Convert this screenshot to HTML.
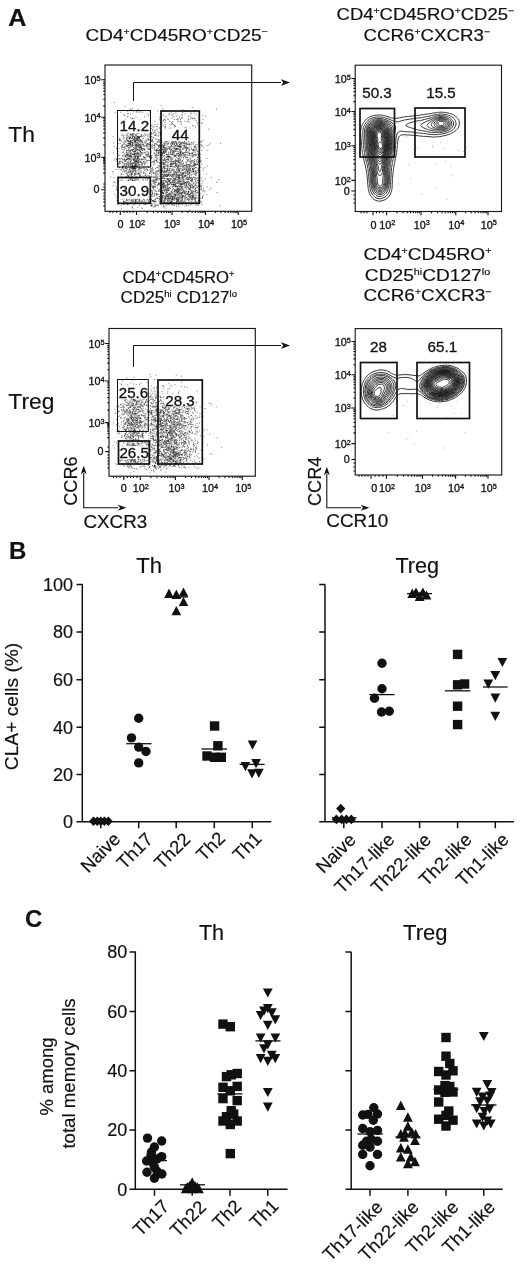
<!DOCTYPE html>
<html lang="en"><head><meta charset="utf-8"><title>Figure</title>
<style>html,body{margin:0;padding:0;background:#fff}svg{display:block}</style></head>
<body>
<svg width="520" height="1265" viewBox="0 0 520 1265" font-family="'Liberation Sans', sans-serif" fill="#111"><style>text{stroke:#111;stroke-width:.18px}.t{stroke-width:.3px}</style>
<rect width="520" height="1265" fill="#fff"/>
<text font-size="24.2" font-weight="bold" transform="translate(8.3 26) scale(1.04 1)">A</text>
<text x="9" y="558.7" font-size="24" font-weight="bold">B</text>
<text x="25" y="927" font-size="24" font-weight="bold">C</text>
<text x="176.7" y="41.4" font-size="16.6" text-anchor="middle" textLength="182.3" lengthAdjust="spacingAndGlyphs"><tspan>CD4</tspan><tspan dy="-6" font-size="9.3">+</tspan><tspan dy="6">CD45RO</tspan><tspan dy="-6" font-size="9.3">+</tspan><tspan dy="6">CD25</tspan><tspan dy="-6" font-size="9.3">−</tspan></text>
<text x="425.3" y="20" font-size="16.4" text-anchor="middle" textLength="177.5" lengthAdjust="spacingAndGlyphs"><tspan>CD4</tspan><tspan dy="-5.9" font-size="9.2">+</tspan><tspan dy="5.9">CD45RO</tspan><tspan dy="-5.9" font-size="9.2">+</tspan><tspan dy="5.9">CD25</tspan><tspan dy="-5.9" font-size="9.2">−</tspan></text>
<text x="426.8" y="41" font-size="16.4" text-anchor="middle" textLength="126.5" lengthAdjust="spacingAndGlyphs"><tspan>CCR6</tspan><tspan dy="-5.9" font-size="9.2">+</tspan><tspan dy="5.9">CXCR3</tspan><tspan dy="-5.9" font-size="9.2">−</tspan></text>
<text x="178.5" y="283" font-size="16.2" text-anchor="middle" textLength="112" lengthAdjust="spacingAndGlyphs"><tspan>CD4</tspan><tspan dy="-5.8" font-size="9.1">+</tspan><tspan dy="5.8">CD45RO</tspan><tspan dy="-5.8" font-size="9.1">+</tspan></text>
<text x="178.8" y="303" font-size="16.2" text-anchor="middle" textLength="116.5" lengthAdjust="spacingAndGlyphs"><tspan>CD25</tspan><tspan dy="-5.8" font-size="9.1">hi</tspan><tspan dy="5.8"> CD127</tspan><tspan dy="-5.8" font-size="9.1">lo</tspan></text>
<text x="427.4" y="260.3" font-size="16.4" text-anchor="middle" textLength="128" lengthAdjust="spacingAndGlyphs"><tspan>CD4</tspan><tspan dy="-5.9" font-size="9.2">+</tspan><tspan dy="5.9">CD45RO</tspan><tspan dy="-5.9" font-size="9.2">+</tspan></text>
<text x="427.5" y="281" font-size="16.4" text-anchor="middle" textLength="125.3" lengthAdjust="spacingAndGlyphs"><tspan>CD25</tspan><tspan dy="-5.9" font-size="9.2">hi</tspan><tspan dy="5.9">CD127</tspan><tspan dy="-5.9" font-size="9.2">lo</tspan></text>
<text x="427.4" y="300.5" font-size="16.4" text-anchor="middle" textLength="128" lengthAdjust="spacingAndGlyphs"><tspan>CCR6</tspan><tspan dy="-5.9" font-size="9.2">+</tspan><tspan dy="5.9">CXCR3</tspan><tspan dy="-5.9" font-size="9.2">−</tspan></text>
<text x="8.3" y="142" font-size="22.8">Th</text>
<text x="8.3" y="409.4" font-size="22.8">Treg</text>
<path transform="scale(0.25)" d="M458 410zm187 12zm-145 5zm269 3zm-248 8zm4-2zm5-3zm23 6zm98-6zm80 6zm135-2zm-374 4zm19 6zm22 0zm12-2zm4-4zm3 6zm9 0zm69-3zm18 1zm3-4zm5 4zm6 1zm10-2zm67-1zm6 2zm12 2zm17-2zm-313 6zm22-2zm30 6zm34-6zm11 0zm11 0zm30-1zm85 3zm11 3zm8-2zm25-4zm3 3zm9 4zm24-3zm14 0zm-282 7zm3 3zm12-6zm11 0zm69 0zm3 5zm54-4zm7 4zm20-5zm3 1zm9 2zm4 2zm16 2zm20-4zm2 2zm34-5zm22 1zm26 5zm-303 6zm4-3zm16 6zm16-3zm35-1zm60 2zm3-3zm3-1zm0-1zm15 5zm5-4zm31 3zm22 3zm1-6zm9 4zm0 2zm25-5zm8-1zm6 6zm56-6zm-321 13zm19-6zm5 7zm4-5zm6 0zm26 5zm76 0zm8-1zm10 0zm3-1zm1 2zm10-3zm4 3zm15-7zm10 6zm8 0zm2-2zm4-1zm9 3zm6-4zm25 3zm1 0zm8-2zm7-1zm2-1zm6-1zm3 2zm31 3zm-325 10zm24-4zm0-1zm5 4zm17-3zm7-2zm10 4zm3-1zm6 0zm44-1zm18 2zm25-5zm8 2zm1 2zm8-2zm17 4zm12 0zm18-1zm6-1zm6 2zm1 1zm17-2zm10 0zm4 0zm27-5zm5 3zm-312 7zm30 5zm3-2zm16-5zm1 5zm35-5zm17 5zm3-4zm18 3zm6-1zm43 0zm3 2zm12-3zm26 1zm2 1zm2 3zm35-3zm32-4zm31 2zm17 3zm5-1zm-315 5zm7 0zm6 4zm9-2zm10 4zm8 0zm3-1zm24 0zm35 0zm10 1zm13-4zm9-1zm25 3zm7-3zm19 0zm7 0zm8 0zm3 5zm2 0zm25-5zm45 4zm21-6zm-301 14zm7 1zm1-1zm14-1zm3 1zm5-6zm9 0zm55 0zm20 0zm7 1zm2 6zm6-6zm8 2zm3-1zm9 4zm9-5zm13 0zm0 3zm0-1zm37 0zm3-2zm39 4zm35-5zm7 4zm-270 9zm16-2zm0 4zm9-4zm1 3zm13-6zm6 6zm5 0zm22-6zm1 2zm11 4zm9-4zm6 4zm16-1zm10-2zm20 2zm3-3zm2-1zm11 6zm3-6zm2 3zm1 1zm4-5zm3 5zm59-5zm1 1zm15-1zm15 3zm59 2zm-339 6zm0-1zm8-2zm6 7zm5-1zm2-1zm1-4zm1 2zm1-2zm11 6zm13-3zm2 3zm2-1zm2-4zm45 2zm6-2zm10 1zm8 1zm1-2zm9-1zm17 4zm11 1zm1-2zm5-1zm6 4zm8-7zm9 5zm24 2zm2-3zm3-4zm81 3zm-309 6zm3 1zm19 3zm1 0zm3 0zm7 2zm0-7zm3 7zm4-6zm4 5zm1 0zm1-2zm2-1zm0 3zm0 1zm7-6zm4 0zm0 3zm3 3zm2-2zm1 0zm4 2zm11-5zm0-1zm7 0zm4 6zm2-7zm5 7zm3-3zm8-1zm0 3zm5-1zm4 1zm1-4zm6 3zm1 1zm4-4zm4-1zm12 0zm4 0zm3 6zm2-5zm0-1zm1 5zm1 1zm15-7zm13 5zm2-4zm4 0zm0-1zm8 2zm13-2zm4 5zm0-4zm7-1zm28 1zm12 3zm6-1zm21-2zm-306 9zm16 5zm1-7zm4 7zm5-2zm7-2zm4 4zm3-1zm1-6zm11 3zm0 2zm0-4zm1 4zm4-3zm0-1zm2-1zm0 1zm1 6zm1-7zm1 7zm4-6zm5 0zm1 5zm3-1zm2-5zm17 5zm1-1zm1 0zm6 1zm7-2zm3 3zm13-3zm4 0zm6-2zm14 5zm1-1zm0-4zm2 3zm4-4zm1 7zm13 0zm0-7zm1 1zm1 0zm9-1zm5 0zm42 0zm8 3zm15-1zm28-2zm14 7zm-311 4zm41-2zm2 5zm12-2zm1 2zm3-2zm3-2zm4 5zm1-1zm1-1zm0 2zm1-4zm6 0zm2 1zm0-4zm1 5zm3-4zm3 3zm0 2zm1-3zm0 1zm3 3zm2-7zm2 2zm0 4zm4-3zm1 0zm0 3zm1-5zm1 2zm2 4zm0-4zm0 3zm1 1zm0-3zm1 1zm1-3zm1 3zm0 1zm3-5zm0 3zm3-2zm1 2zm4-2zm7 1zm14-3zm3 0zm5 5zm3-4zm5 0zm1 2zm6 1zm0 3zm21-7zm10 0zm11 5zm5-3zm1 2zm12 2zm26-3zm17 0zm8 3zm8-1zm0-2zm1 0zm7 3zm0-2zm17-4zm6 6zm4 1zm16 0zm8-1zm-314 3zm2 2zm2 3zm13-2zm5-4zm7 4zm1-2zm1 3zm5-1zm4-2zm1 0zm1-2zm0 1zm0 2zm7-1zm1 0zm3-2zm2 2zm1 5zm2-1zm2-6zm1 6zm1-3zm1 0zm1-2zm2 4zm4-3zm0 1zm1-1zm1 4zm0-3zm1-1zm2 3zm1-1zm2 3zm1-5zm2-2zm1 5zm3 1zm11-4zm15 2zm4 1zm1-4zm2 4zm7-5zm3 0zm3 5zm1 1zm10-5zm4 4zm4 0zm7 1zm21 0zm3-3zm21 1zm9 0zm10-2zm19 4zm1-1zm2 2zm7-5zm6 3zm0-5zm2 5zm22 0zm5 0zm4 0zm1-5zm22 0zm-313 8zm2 2zm1-1zm4 1zm2 4zm12-2zm5-2zm4-2zm4 3zm0 1zm1-2zm3 2zm2 0zm0 3zm1-6zm0 5zm5 0zm0-5zm1 6zm1-4zm0 2zm4-1zm1-1zm2-3zm1 2zm7 3zm0-4zm1 1zm0 2zm1 0zm0 2zm1 0zm0-1zm2-3zm0 2zm1-2zm1-2zm1 1zm2 0zm3 1zm1-1zm0 5zm5-1zm0-1zm1-1zm2 0zm1-1zm1-1zm2 5zm1-5zm2 5zm0 1zm3-7zm8 4zm4 0zm3-1zm1-1zm9-2zm1 0zm6 2zm3 4zm1-4zm2-1zm0 4zm7 1zm14 1zm2-3zm4-4zm2 7zm2-6zm1 0zm3 6zm3-7zm2 4zm6-3zm1 1zm3 4zm2-4zm4 5zm1 0zm0-1zm1 1zm2-7zm2 4zm1 2zm12-3zm3 0zm0 4zm1-6zm2 6zm4-2zm5-4zm1 5zm0 1zm1-5zm1 4zm1-3zm1 1zm1 3zm2-4zm8 1zm3 1zm7-1zm7-2zm6 5zm1-1zm9-5zm6 6zm1-3zm1 3zm8-5zm4 1zm11 4zm10-7zm14 6zm4 0zm5-5zm-356 10zm17 3zm8-1zm14-4zm1 6zm4-5zm1-2zm5 0zm6 7zm0-1zm1 1zm1-7zm0 7zm1 0zm3-2zm1 1zm1 1zm0-6zm0 2zm1 3zm1-1zm0-5zm3 3zm1-3zm2 2zm1 1zm1 0zm0 4zm3-3zm3-4zm2 0zm3 0zm0 2zm2 2zm2 0zm2-1zm2-1zm2-2zm1 5zm3 0zm6-4zm3 3zm5-2zm1-1zm10 2zm0 1zm4-4zm1 5zm6 1zm1 1zm4-6zm4 2zm10-3zm9 6zm4-1zm6-5zm4 0zm6 2zm3 1zm3 4zm7-5zm7 3zm1 0zm1-3zm7 5zm4-1zm1 0zm0 1zm4-6zm5 6zm3-7zm2 5zm1 1zm1 1zm0-4zm2 2zm1-5zm0 2zm3 1zm1-3zm0 7zm1-1zm4-6zm3 4zm1 3zm0-5zm1 5zm2 0zm4-4zm2 1zm4-3zm2 2zm2 1zm1 1zm1-2zm2 2zm1 1zm1-6zm3 4zm0-2zm2 0zm2 3zm2 1zm1-3zm3-3zm1 6zm5-3zm0 2zm1 0zm10 2zm7-3zm2-3zm5 3zm2-1zm20 0zm2 4zm8-6zm37 6zm41-1zm-394 6zm2 1zm0 1zm5-6zm1 3zm6 1zm3-1zm3 2zm1 2zm3-2zm0 2zm0-1zm3 1zm1-1zm3-2zm1-3zm0 2zm2-1zm2 3zm0 2zm2-2zm2-5zm1 2zm1 3zm2 1zm0-6zm4 7zm1-7zm2 2zm2-1zm1 4zm3-1zm1-1zm0 2zm1 2zm0-6zm1 3zm2 1zm1-5zm1 7zm1-6zm1-1zm0 5zm2 0zm2-3zm1 1zm1 3zm1-1zm0-4zm3 0zm4 3zm1-3zm1 0zm3-1zm1 2zm1 4zm5-1zm5-1zm1 3zm1-3zm1 0zm4-2zm0-1zm3 3zm2-3zm0-1zm1 4zm8 3zm3-6zm0 4zm6 1zm2-1zm1-2zm0 3zm6-5zm0-1zm4 4zm3 2zm0-5zm3 5zm4-1zm1 1zm1 1zm0-4zm1 0zm2 4zm6-6zm1 3zm3 2zm2-6zm2 4zm0 3zm1-2zm1 0zm1-5zm4 4zm7-2zm13 1zm2 3zm1-2zm4-2zm6 0zm0 4zm1-5zm3 6zm2 0zm1-1zm3-4zm1-1zm1 5zm6 1zm3-5zm1-1zm2 4zm1-1zm4-4zm1 4zm5 2zm4-6zm0 6zm2-2zm2 3zm4-6zm4 1zm1-1zm4 2zm1-2zm4 2zm2-3zm1 3zm6-2zm8 0zm5 5zm4-3zm5-1zm7 5zm2-1zm2-5zm4 2zm3 3zm21 1zm7-3zm-378 6zm12 3zm16-4zm3 4zm1-2zm3 4zm4-3zm0 2zm3 1zm0-4zm5 0zm2-2zm4 1zm3 4zm4-1zm3-3zm3 3zm5-3zm1-2zm5 6zm7-5zm0-1zm2 7zm0-6zm2 6zm0-4zm1 1zm2 1zm3-3zm2-1zm1 6zm1-6zm2 3zm1 1zm1 1zm1 0zm1-6zm1 4zm0-4zm0 3zm1 4zm1-6zm1 6zm1-2zm2-4zm7 2zm4-2zm6-1zm3 3zm1 0zm7 0zm4-2zm7 4zm2-1zm8 2zm3-3zm14 1zm1-1zm3 2zm1-4zm2 4zm1-3zm3-2zm3 3zm0 2zm3-5zm2 3zm1 0zm0 2zm0 2zm3-4zm1 3zm5 1zm0-1zm6-5zm4 6zm2-5zm2 3zm5-1zm1-2zm2-2zm0 5zm3-3zm7 2zm1-1zm3 1zm5-4zm7 2zm1 0zm1-2zm0 3zm3-1zm1-2zm0 4zm1-3zm1-1zm1 4zm2-3zm0 3zm2 0zm0 1zm1-2zm8 3zm3-6zm0 7zm3-6zm0 3zm1 1zm0 2zm3-1zm2-5zm1 0zm1 5zm2 1zm8-4zm8 1zm11 1zm2-3zm1 5zm2-5zm2 0zm2 4zm8-4zm4 0zm3 2zm7-4zm6 4zm-346 6zm9 0zm10-2zm5 6zm7 0zm6-4zm10 3zm1-4zm4-1zm8 6zm2 1zm3-2zm1 1zm1 0zm2-6zm2 1zm1 2zm2-2zm2 6zm1-5zm1 5zm2-4zm3 2zm0 1zm1 0zm1 0zm4-1zm2-5zm3 5zm3-1zm0 3zm1-6zm0 5zm2-3zm1-1zm1 2zm2 0zm1-2zm3 1zm1 3zm2 0zm1-2zm1 3zm11-6zm0 2zm4 1zm1 1zm1-2zm0 3zm4-6zm7 1zm8 3zm3-4zm7 7zm2-2zm0-4zm6 2zm4 4zm1 0zm4-1zm0-4zm4 2zm4-3zm0 4zm0 2zm4-2zm2-4zm2 5zm0 1zm2-2zm1-1zm1 1zm2-3zm3 1zm0 4zm2-2zm2-4zm5 3zm1-4zm1 1zm0 5zm0-1zm4 2zm2-2zm2 0zm3-4zm6 2zm1-3zm0 2zm5 2zm0-3zm2 2zm0 3zm0-1zm3-2zm0-1zm0 3zm0-4zm1 6zm0-4zm1-2zm1 4zm3-1zm2-1zm2 3zm3-6zm1 3zm0 3zm9-2zm1-1zm3 3zm6-4zm4 2zm2 3zm1-2zm1-3zm2 0zm0-2zm3 0zm3 6zm1-2zm8-1zm1 1zm3 2zm4-1zm1 1zm3-1zm5-4zm3 6zm1-4zm-314 11zm22-1zm12-3zm0 3zm1-2zm1-1zm4-1zm3 1zm2 3zm3-5zm0 5zm1-5zm0 2zm0 4zm4-4zm5-1zm0 4zm1-3zm4 5zm0-7zm1 7zm2 0zm0-1zm3 0zm0 1zm0-5zm1 4zm1-6zm1 1zm2 2zm4 1zm6-2zm0 1zm1-3zm4 6zm1-1zm1 0zm4-4zm3 1zm7 0zm10 5zm2 0zm8-7zm6 2zm16-2zm1 1zm4 0zm1-1zm0 7zm1-5zm1 2zm4-2zm1 0zm1 0zm2 3zm2-4zm0 3zm3-2zm3 2zm5 1zm5-4zm1 2zm0 2zm1 1zm2 1zm2 0zm0-6zm2 1zm2 2zm2 2zm1-3zm16 0zm2 3zm2-6zm3 4zm3-2zm2 3zm2 2zm0-1zm0-6zm3 2zm2 1zm1 2zm3-1zm4 2zm3 0zm6-2zm2 0zm2-4zm1 5zm2-1zm17 1zm1-3zm3-1zm6 4zm6-3zm12 0zm4 0zm1 0zm0 1zm1 2zm5-4zm3 4zm6 0zm2-1zm4-3zm11 1zm24-1zm-377 11zm34-1zm6-2zm12 2zm1-1zm3 5zm2-6zm4 4zm0-2zm5 2zm1 2zm0-4zm4 1zm2 3zm8 0zm1-7zm2 4zm2 3zm2-1zm2-2zm2 0zm2 2zm2-4zm1 1zm1 4zm1-1zm3 1zm2-7zm3 1zm3 2zm0 1zm2-1zm4 4zm1-5zm7 1zm1-2zm1 4zm12-2zm2 0zm8 4zm3-7zm10 6zm2-2zm7 1zm3-4zm5 4zm1-1zm1-2zm0 5zm1-5zm0-1zm5 6zm0-1zm2-3zm2-2zm3 2zm1 2zm0-1zm3 2zm1-4zm0 2zm0 1zm1-3zm1-2zm2 6zm2-5zm0 4zm3-5zm2 0zm0 1zm10 0zm2 4zm6-3zm0-1zm2-1zm5 7zm1-4zm1-3zm1 3zm1-3zm3 4zm1 0zm11 2zm0 1zm1-1zm5 0zm2-4zm3 3zm2-2zm1-1zm0-1zm0 6zm1-7zm0 4zm1-4zm4 6zm1-5zm1 4zm2 1zm2 0zm1-4zm1 2zm3-1zm2-1zm4-1zm2-1zm1 2zm4 2zm4-4zm0 4zm2 2zm1 0zm4-1zm4 0zm1 2zm1-1zm1 0zm1-4zm5 1zm7 1zm9 0zm7 3zm-325 1zm2 7zm3-2zm11 2zm6-6zm4-1zm1 6zm2-1zm4-4zm0 1zm1 0zm0 5zm0-1zm2-2zm2-3zm1 1zm0 4zm4 0zm2-6zm3 5zm0-1zm0 3zm5 0zm1-4zm3-3zm0 2zm2 0zm1-2zm3 2zm1 1zm0-3zm1 0zm1 0zm3 6zm2 0zm2-6zm1 1zm1 0zm3 4zm2-4zm2 0zm2 4zm3 1zm2-5zm0 4zm1-5zm5 0zm14 4zm2 1zm1-1zm2-3zm1 2zm3-3zm0 2zm4-1zm1 6zm9 0zm2-1zm12-6zm2 7zm1-1zm2-1zm1-3zm3 3zm3-1zm1 2zm4-2zm5 3zm1-5zm3 0zm0 4zm3-1zm1-3zm1 5zm6-2zm2 0zm7-4zm0 3zm2-2zm1 0zm4-2zm1 4zm2 0zm5-4zm1 2zm1-1zm4 1zm1-1zm0 1zm3 2zm2-4zm2 1zm1 4zm3 1zm1 1zm1-1zm2 0zm1 0zm1-4zm6 4zm0-6zm4 4zm1 3zm1-6zm1 1zm3-2zm1 7zm2 0zm0-4zm1-1zm2 3zm6-4zm0 4zm3 0zm4-3zm0 5zm1-4zm2-1zm6 3zm2-1zm5 0zm1 1zm2-2zm4 4zm5-3zm3 1zm2-1zm1 0zm3 3zm1-5zm4-1zm1 3zm1 1zm3 2zm1-5zm6 1zm1 1zm3-4zm0 6zm4-3zm-312 5zm5 0zm5 1zm1 2zm3-1zm1 3zm5-2zm5-3zm1 2zm1-1zm1-1zm3 0zm2 3zm1 2zm0-2zm1-2zm1 1zm2 2zm7-1zm0-3zm4 0zm0 4zm1-4zm1 6zm0-1zm0-2zm1 0zm3-1zm3-2zm2 1zm0 2zm0 3zm1 1zm1-4zm1-1zm0 3zm2 1zm0-5zm6-1zm0 2zm13 0zm1 3zm2-1zm0 2zm4 0zm3 1zm6-5zm1-2zm1 0zm3 2zm3 0zm0 1zm0 1zm1 3zm5 0zm1-2zm1-1zm2 3zm12-2zm0-5zm5 6zm3-3zm12 0zm9 3zm5-4zm6 2zm6 1zm1 1zm1-4zm1-1zm2 2zm0-3zm0 2zm3 1zm1 0zm0 1zm1 0zm0-3zm1 3zm2-2zm1 2zm1 1zm3 0zm1 1zm10-3zm4 0zm2-2zm2 0zm1-1zm3 6zm7-6zm1 3zm1-3zm4 1zm2 1zm4 5zm2-7zm5 4zm1 2zm4-5zm2-1zm4 6zm3-3zm1 3zm1-1zm19-2zm2 1zm5-3zm15 5zm2-1zm1-5zm9 7zm-341 4zm5 2zm1 2zm8-4zm2-1zm3 5zm1-6zm5 0zm5 4zm0 1zm5-5zm1 4zm1 0zm6 2zm2 0zm0-1zm1-2zm1 3zm1-1zm1-4zm1 1zm1-2zm2 3zm1-4zm2 2zm0-2zm1 3zm1-1zm1 4zm1-1zm3-5zm1 6zm4-6zm3 5zm0-3zm2 5zm1 0zm1-2zm1-4zm0 6zm2-5zm1 2zm3-2zm2 1zm0 4zm3-5zm0 5zm2-4zm1 2zm3-4zm0 1zm2 3zm2 1zm3-2zm6 2zm0-5zm1 6zm3-1zm1-1zm4-1zm1-4zm3 5zm2-1zm21-2zm2 0zm2 1zm12 4zm9-1zm1-3zm0-2zm7-1zm3 6zm7-3zm2-2zm3 5zm6-1zm0 2zm2-4zm0 2zm1-1zm6 2zm4-2zm1 1zm1 0zm1 2zm0-2zm1 0zm7-3zm1 5zm4-1zm1-4zm4-1zm0 6zm11-2zm9-4zm1 3zm1-2zm2 5zm3-7zm0 4zm4 0zm0 3zm12-3zm8-4zm4 4zm6 2zm4-2zm3-4zm3 7zm1-6zm14 6zm2 0zm10-1zm3-6zm7 4zm29-2zm-371 6zm7 5zm14 1zm3-1zm4 1zm4-2zm8-4zm0 5zm3-2zm1 3zm1-3zm2-3zm3 7zm7-7zm6 1zm2 4zm0 2zm0-1zm1 1zm3-4zm10-1zm1-2zm0 5zm1 1zm1-5zm3 0zm0 4zm1 0zm2-2zm0 2zm0 2zm1-4zm0 3zm2-2zm2 3zm1-6zm2 3zm1-3zm2 1zm1 5zm3-1zm2 1zm1 0zm2-7zm9 6zm1-1zm5 0zm7-4zm1 0zm0 2zm7-1zm3 0zm5 2zm1-4zm11 6zm1-3zm1 3zm6-4zm2 0zm2 2zm0-1zm9 1zm7-3zm6 3zm4 0zm1-2zm4-1zm2 2zm1 1zm2 0zm4 2zm1 1zm0-7zm7 2zm2 4zm4-1zm5-2zm2 3zm3 0zm2-1zm2-1zm2 3zm3-3zm1 0zm2 0zm1-4zm0 2zm0 3zm4 0zm0 1zm1-5zm0 4zm4-3zm1 2zm1 0zm2-1zm6-2zm2 6zm3-2zm2-1zm0-1zm15 4zm4-3zm2-1zm2-3zm2 4zm5 2zm1-1zm3-1zm3-1zm2-1zm6 0zm3 4zm1 1zm8-6zm0 4zm6-1zm1 3zm7-6zm2 6zm2-6zm-333 9zm3 3zm3-2zm1-3zm3 4zm9-2zm1 2zm1 1zm6 1zm5 0zm5-4zm2 5zm2-6zm2 5zm0-6zm2 7zm3-5zm4 4zm0 1zm1-1zm4-3zm1 3zm2 1zm1-5zm2 5zm1-6zm0 3zm0 3zm4-5zm0 3zm2 0zm0 2zm1-3zm3 0zm1 3zm1-7zm3 4zm0-3zm2 0zm0 2zm1-3zm1 4zm8-2zm3 0zm0 2zm3 1zm2-1zm3 0zm5-3zm1 6zm1-3zm3 1zm5-4zm13 6zm3-5zm3-1zm2-1zm4 4zm4-3zm10-1zm1 1zm10 3zm0-2zm2 2zm3-3zm1 1zm6 2zm0-2zm3 3zm1 0zm1-3zm4 2zm1 1zm0-4zm7 1zm6 1zm9 4zm1-7zm1 2zm0 5zm2-2zm3 2zm2 0zm1-4zm2 2zm1 0zm0 2zm4-2zm1-4zm0 3zm1 0zm2 1zm0 2zm9-6zm1 0zm2-1zm0 3zm0 2zm2-3zm2-2zm3 6zm0-4zm6 5zm4-2zm1-1zm10-2zm17 0zm2 5zm3-6zm3-1zm3 0zm2 4zm2-3zm3 5zm1 1zm7-6zm5 0zm6 6zm4-7zm-328 12zm0-4zm5 0zm18 3zm0 2zm2-1zm5 1zm2-1zm1-4zm4 3zm2 0zm1 2zm1-1zm6-1zm1-2zm2 2zm4 2zm0-1zm1-3zm1 6zm7 0zm2-1zm1 1zm0-3zm1 1zm2 1zm0-3zm1-1zm1 3zm1 0zm5-5zm2 1zm3 3zm2-2zm2 4zm0-5zm8 2zm1-1zm0 3zm9-4zm25 3zm2-3zm11 2zm4-3zm15 7zm5-7zm1 6zm4-1zm3-5zm3 0zm2 1zm1-1zm1 1zm2 3zm0-3zm3 1zm5 1zm4-3zm2 5zm2 0zm8-3zm1-2zm0 7zm1-6zm1 1zm2 2zm4-3zm2 1zm10 2zm0 3zm1-1zm1-4zm0 3zm1-5zm2 6zm1-2zm1-4zm5 7zm1-1zm1 1zm1-4zm3-2zm2 6zm3-6zm3 4zm1-4zm2 6zm2-3zm5 2zm1 0zm2-1zm1-1zm4-4zm1 0zm1 3zm1 4zm1-6zm4 1zm1 3zm1-2zm3-1zm0 2zm5 2zm0-6zm6 5zm4 1zm2-4zm1-1zm0 1zm1 4zm2-5zm1 5zm0-6zm2 1zm2 0zm1 2zm3-3zm1 2zm1-2zm16 1zm-331 13zm2 0zm12-1zm1-5zm0 6zm1-4zm0 2zm2-3zm9 6zm0-6zm2 0zm3 6zm7-3zm1-4zm5 5zm1-4zm1-1zm1 2zm0 1zm1 3zm2-3zm1 0zm2 3zm0 1zm0-7zm0 1zm1-1zm0 2zm3 1zm0 3zm1 1zm1-6zm1 1zm0 1zm1 3zm1-4zm1-1zm0 2zm1 4zm0-5zm3 1zm0-2zm2 2zm4-3zm1 1zm0 3zm2-4zm4 4zm1 3zm2 0zm8-3zm6 3zm2-5zm1-1zm2 4zm8-2zm4 0zm3 2zm1 0zm4 0zm6-4zm5 5zm18 0zm1-1zm3 0zm5-5zm3 0zm0 5zm6 1zm1-4zm1 2zm4 3zm2-4zm1-2zm0 4zm1-2zm2 0zm1 3zm0-6zm5 0zm2 0zm4 1zm0 2zm3 2zm4-3zm5-2zm0 2zm1 1zm2-3zm1 1zm3 0zm3 3zm3-2zm2-1zm3 5zm0-2zm6-3zm2 2zm2 1zm0-3zm1 6zm1-1zm1-2zm2-4zm2 5zm5-2zm5-1zm4 2zm0 3zm1-6zm2 0zm2 6zm1-5zm3 5zm5-6zm1-1zm1 7zm0-5zm2 4zm3-4zm4 4zm2-3zm1-3zm1 1zm2 0zm5 2zm1 1zm1-2zm7-2zm0 4zm1-3zm5 5zm4 0zm17-1zm18 2zm8-7zm-365 14zm11-2zm9 2zm3-5zm4 2zm2 4zm3-4zm6-2zm1 0zm2 2zm2-1zm2 2zm8-1zm1 3zm3-2zm4 0zm0-2zm4-1zm2-1zm0 5zm1-5zm1 1zm0 1zm0 2zm1-1zm1 0zm2-1zm2 3zm0-4zm0 1zm1 1zm1-2zm0 6zm1-5zm3 0zm8-2zm1 0zm1 5zm3-1zm2-2zm1 2zm6-1zm1-2zm5-1zm6 2zm1 5zm6-4zm1 2zm3 2zm9 0zm5-4zm0 2zm4-3zm1 2zm4 1zm9-3zm13-1zm4 4zm4 2zm5-4zm0 2zm1-2zm8-1zm1 3zm0-4zm4 1zm3-1zm4 6zm1-2zm1-3zm0 1zm0 3zm7-4zm5 0zm7 3zm1 0zm5-1zm9 1zm2 0zm2-2zm4-1zm2 2zm0 2zm1-2zm1 3zm3-5zm4 1zm1 1zm6 2zm1-2zm4 2zm2-2zm2 3zm1-3zm4-3zm2 5zm0-2zm5-1zm1-2zm2 4zm1-1zm0 2zm3-6zm1 7zm0-5zm2 5zm1-5zm7 3zm1-3zm0 3zm0-1zm1-2zm1 2zm0 3zm5-5zm1-2zm13 2zm5 1zm1-1zm14-1zm-361 13zm32-6zm6 7zm4-4zm5-2zm0 6zm5-5zm1 2zm2 1zm1-3zm8-1zm5 6zm0-6zm1 5zm1 0zm2-5zm2 4zm4 2zm1-6zm2 6zm2-7zm1 4zm3-3zm1 4zm0-3zm3 5zm1-4zm7 0zm2-3zm6 6zm4-4zm2 2zm14-3zm6 3zm5-4zm12 6zm1-2zm0-1zm4 4zm2-4zm3-3zm12 4zm3-1zm0 4zm3-3zm4 0zm2-4zm0 4zm1 0zm6-2zm1 5zm0-4zm2-1zm0 4zm2-2zm0 1zm1-4zm0 3zm3-1zm3 1zm2 3zm1-1zm1-4zm1 3zm0 2zm5-2zm1-3zm0 5zm1 0zm1-5zm3 2zm2-1zm3-1zm2-1zm1-1zm1 0zm0 7zm6-7zm1 3zm4-3zm2 1zm3 1zm0 3zm5 1zm3-2zm4-4zm2 5zm3-2zm2 0zm1-1zm0 5zm1-5zm1 4zm1-3zm8-1zm4 0zm3-2zm8 4zm5-3zm1 2zm0 2zm1-3zm0 4zm1-1zm2 0zm2-1zm2-1zm2 0zm4-1zm1 0zm2 3zm5-2zm2 4zm1-1zm1 1zm1-1zm0-4zm5-2zm1 1zm1 5zm1 1zm6-6zm4 0zm1 1zm1 1zm5 2zm13-4zm-361 11zm48-1zm6 3zm3-3zm2 0zm3-3zm1 0zm3 4zm2-2zm4-1zm1 4zm2 1zm2-6zm1 7zm1-7zm7 6zm2 0zm3-3zm2-3zm5 7zm4-2zm0 2zm0-1zm1-3zm8 1zm1-1zm9-2zm2 2zm0 1zm1-1zm6 3zm16-1zm1 0zm4 0zm1-2zm7 1zm3-4zm1 7zm1-3zm0 2zm4-5zm2 4zm4-2zm4 1zm8-1zm6-3zm0 1zm2 1zm1-2zm1 4zm6-2zm3-2zm3 1zm3 2zm5-3zm6 3zm0 4zm5-4zm1 0zm0-3zm5 0zm10 1zm1 6zm1-3zm0-4zm6 7zm0-6zm1 1zm2 5zm1-2zm0-4zm1-1zm6 3zm2 0zm6-3zm1 6zm1-4zm4 2zm3 1zm0-4zm0 2zm3 3zm0-3zm2 2zm3-5zm0 1zm4 2zm1 0zm1 3zm6-4zm1 5zm0-7zm4 2zm2 1zm1 4zm0-6zm0 1zm1 4zm7-5zm1-1zm7 7zm1-7zm4 6zm2-2zm2 3zm2-2zm0-5zm5 2zm-307 7zm2-1zm0 3zm7-2zm16 5zm1-3zm2 0zm2 4zm4-3zm5-2zm2 5zm1-6zm0 3zm1-1zm1-2zm8 6zm3-7zm0 4zm2-3zm0 2zm3-2zm5-1zm8 6zm1-6zm2 1zm0 3zm17 3zm5-1zm2-4zm7 3zm15-2zm15 3zm1-5zm4 4zm5-4zm1 2zm5 1zm5-1zm1-1zm1 0zm4 0zm2-1zm3-1zm3 3zm0 3zm2-6zm1 2zm1 4zm3-3zm0 1zm1 0zm0-1zm4-2zm1 5zm0-5zm2 1zm0 3zm1 0zm1 1zm1 0zm1-4zm2 2zm2-2zm2-2zm1 6zm1-1zm4-3zm1 5zm1-3zm2-2zm1-2zm1 3zm0 3zm4-6zm1 2zm4 1zm4 0zm1 0zm1 1zm3 2zm1 1zm0-6zm3 4zm1-1zm0 2zm2-4zm1 5zm2-3zm2 2zm2-4zm1 0zm1 5zm2-6zm1 6zm0-4zm2-3zm1 7zm1-7zm5 6zm2-6zm0 5zm1 1zm2 0zm4 1zm2-6zm2-1zm2 2zm4 5zm2-4zm5 2zm3-3zm12 0zm2 3zm3 2zm16-6zm24-1zm-382 12zm13 3zm18-6zm11 3zm1 1zm16-2zm0 4zm3-3zm5 3zm1-4zm2-1zm1-1zm6 4zm2 2zm1-6zm2 6zm4-5zm12 5zm3-2zm1 0zm0-1zm12 3zm1-4zm1-3zm0 4zm3 1zm0-5zm5 4zm5-1zm13-1zm4 4zm6-6zm3 0zm0 3zm7-2zm2 1zm1 4zm5-3zm2 2zm1 1zm2-1zm3-3zm2 2zm2 2zm1-1zm4-1zm2-1zm7 0zm5 2zm1-1zm4 0zm2-2zm1-2zm1 0zm1 0zm2 0zm3 2zm1 2zm4-2zm1 0zm2-1zm0-1zm2 2zm2 0zm8 0zm7 0zm3 0zm0 5zm0-7zm5 1zm1 6zm3-7zm3 7zm0-7zm4 6zm0-5zm0 2zm2 3zm3-2zm2-4zm1 5zm1-5zm0 4zm1 1zm1-3zm1 3zm1 2zm1 0zm2 0zm7 0zm0-7zm1 7zm1-5zm0 3zm2 0zm3-1zm2-2zm1-1zm2-1zm3 2zm2 5zm5-3zm0 2zm6-2zm2 2zm0-5zm3 6zm2 0zm4-2zm0 2zm5-1zm3-3zm4 4zm1-1zm9 1zm9 0zm2-3zm45 2zm-373 4zm15 5zm31-6zm2 2zm2 3zm4-5zm2 2zm1 4zm3-6zm2-1zm4 1zm5 4zm1-5zm3 7zm1-6zm2 1zm3 4zm19 0zm11-5zm5 5zm2-3zm6-2zm16 6zm6 0zm4-3zm2 2zm0-5zm1 3zm2 1zm0-1zm3-1zm5-1zm1 2zm2-2zm4-1zm3 1zm0 1zm5-3zm1 1zm1-1zm4 2zm1-2zm0 2zm0-1zm7 1zm4 2zm2-1zm0 2zm0-3zm2 3zm1 2zm1-3zm2 1zm1-3zm4 3zm1-3zm2 4zm2-3zm5 4zm3-5zm2 0zm1 4zm2 0zm1-3zm0 2zm2 0zm0-3zm4 3zm3 0zm3 2zm1-5zm1 0zm3-1zm1 2zm2-3zm1 4zm3 3zm3-3zm3 0zm1-4zm3 5zm1-1zm0-4zm5 6zm4-6zm1 4zm1 1zm3-5zm0 5zm3 1zm1-5zm1 6zm1-7zm1 5zm1 2zm0-4zm5-2zm2 0zm4 5zm1-1zm0-2zm2 1zm8 1zm4-4zm1 2zm4-1zm8 1zm10-3zm14 4zm55 2zm-418 9zm16-3zm0 3zm5-2zm5-2zm3 3zm5-4zm7 5zm1 0zm8-4zm6-1zm1 0zm1-2zm1 0zm7 0zm1 7zm1-2zm4-3zm0-1zm1 4zm0 2zm1-2zm1-5zm1 5zm0-1zm0 3zm2-1zm0 1zm2-6zm0 3zm3-3zm1 5zm0-6zm1 6zm5-2zm6 3zm2-4zm3 4zm15-6zm10 0zm7 2zm8 4zm5-2zm1-2zm7 1zm1-1zm1 0zm2 0zm2 3zm2-2zm2-1zm5-2zm3-1zm7 0zm6 0zm2 5zm1-3zm0 3zm0 2zm1 0zm1-4zm3 0zm1 2zm2-2zm2-1zm3-1zm2 1zm2 2zm1 3zm3-6zm5 4zm1-1zm3 2zm0-1zm1-4zm0 2zm1-1zm2 2zm0 2zm1-4zm11 1zm3 2zm2-3zm0 1zm2-3zm1 4zm2 3zm3-5zm7 3zm1 0zm0-5zm3 7zm1-1zm0-6zm2 3zm2 0zm2 1zm1 2zm2-2zm3 3zm3-4zm3 3zm0-3zm4 2zm9 2zm5-3zm0 3zm10-5zm3 3zm0-1zm1-4zm1 2zm1 2zm0-1zm2-3zm11 7zm1-3zm0-4zm9 2zm1 0zm3-1zm7 0zm8 3zm-355 5zm8 2zm10 1zm5-4zm10 2zm18 2zm3 1zm1-2zm1-2zm1 4zm6 2zm5-5zm0-1zm1-1zm2 2zm0-2zm1 4zm2-1zm1 2zm1 0zm1 2zm0-7zm4 1zm2 4zm1-2zm1 1zm0 2zm2-2zm0 3zm4-2zm0-5zm2 1zm2 6zm0-3zm1-2zm2 5zm2-7zm0 2zm2-1zm0 3zm1 2zm1 0zm1-6zm7 5zm2 0zm3-4zm7 3zm20 3zm3 0zm11-7zm0 4zm3 2zm1-3zm4-2zm1 2zm2-1zm2-2zm8 4zm1 3zm0-3zm0 2zm3-1zm3 2zm1-2zm1-2zm2 4zm2-5zm1 0zm1 5zm3-7zm0 6zm3-3zm0 1zm0 3zm0-1zm2-3zm0 3zm6-6zm1 1zm3 0zm0 1zm3-1zm1 3zm0 3zm6-3zm2-4zm3 2zm0 3zm1-3zm1 5zm1-6zm0 6zm4-5zm2-2zm0 1zm1-1zm0 2zm4 5zm2-5zm2-2zm2 6zm3 0zm3-1zm0 1zm0-4zm1-2zm4 6zm1-6zm1 6zm2-5zm0 2zm1-3zm2 7zm1-4zm2 4zm2-1zm3-2zm2 3zm1-7zm1 3zm3 3zm1-2zm0 3zm2-1zm0-6zm2 2zm1 0zm1-1zm2 4zm1 1zm1-6zm2 5zm1-3zm1-1zm3-1zm1 7zm3-4zm0 3zm2-3zm13-3zm3 3zm0 3zm10 1zm1-6zm5 1zm4 3zm2 0zm0-4zm1 1zm10 3zm59-3zm-414 13zm36 0zm0-6zm1 0zm2-1zm6 1zm5 3zm2 0zm4 2zm2-1zm2-5zm0 5zm1-3zm2 5zm3-7zm3 0zm0 6zm1-4zm0 1zm1 0zm0 1zm2-3zm0-1zm1 3zm0-2zm4 4zm3-4zm1 3zm1-4zm0 3zm1-2zm1-1zm0 1zm1 3zm3-2zm1 5zm1-5zm1 0zm1 3zm3-5zm0 2zm1-2zm0 7zm1 0zm0-6zm5 2zm4-3zm0 1zm2 0zm5 2zm0 4zm4-3zm10 0zm1-4zm4 6zm12-5zm7 4zm2-5zm13 1zm1 4zm8-2zm1 2zm3 0zm2-3zm4 0zm2 4zm3-2zm4-4zm0 6zm1-4zm0 1zm3 1zm0-1zm1 4zm1-6zm4 4zm0-1zm1 0zm3 2zm0-1zm6-4zm1 3zm1-3zm0 5zm2-5zm1 2zm2 0zm1-2zm2 0zm8 1zm2 1zm3-2zm1 2zm0-1zm1-2zm0 7zm1-4zm1-1zm1-1zm0 2zm1 4zm1-4zm2 1zm0-1zm1-3zm1 4zm1-1zm11 3zm3-4zm6 3zm1 2zm0-6zm0 1zm0 2zm0-1zm2-3zm0 3zm1-3zm4 2zm1-2zm3 3zm3-2zm1 5zm5-4zm1 4zm2-4zm0 3zm1 2zm5-5zm4 4zm0-1zm2-5zm2 6zm2-5zm1 0zm3 5zm1-5zm2 4zm3-5zm7 5zm0-1zm0 2zm2-6zm5 6zm5 1zm2 0zm5-7zm8 4zm-342 5zm8 5zm14 1zm2-1zm3-4zm2-1zm2 1zm0 1zm0 4zm1-4zm0 2zm1-3zm0 3zm2-4zm0 4zm1 2zm4-1zm1 0zm2-6zm9 1zm8 5zm5 1zm0-1zm1-3zm2 4zm1 0zm3-6zm1 4zm1-5zm4 2zm2 4zm3-5zm1 4zm2-2zm9-3zm0 2zm3 2zm1-4zm1 1zm20 4zm4-1zm9 0zm11-3zm0-1zm1 5zm2 1zm2-4zm1 5zm1-7zm0 2zm0 5zm3-6zm3 1zm1 3zm20 1zm3 0zm0-5zm3-1zm2 2zm1 2zm1-1zm0-1zm1 2zm0-1zm1 2zm2 0zm3-3zm0-1zm1-1zm1 7zm5-6zm1 3zm3-1zm1 4zm5-1zm3-5zm9 1zm0 4zm5-5zm6 1zm1 0zm1-2zm1 0zm1 5zm0-1zm2-4zm1 1zm3 0zm0 1zm3-1zm5 0zm0 2zm1-1zm4 0zm1 1zm2 1zm2-2zm1 2zm1 0zm6-1zm3 4zm2-6zm3 5zm1-4zm4 4zm1-3zm4 4zm2-3zm5-4zm0 2zm1 4zm1-1zm0-5zm2 7zm4-4zm0 2zm4-2zm1 1zm1-2zm0 3zm4-1zm6 1zm1 0zm4 2zm4-5zm8-2zm2 0zm2 3zm23 0zm-363 12zm1-7zm1 7zm10-4zm8 0zm2-3zm6 5zm1 2zm0-7zm3 0zm0 4zm0-3zm2 5zm3 0zm5 1zm1-1zm6-6zm2 1zm1 0zm0 6zm4-1zm1-4zm7 5zm0-6zm2 5zm5-3zm3 0zm1-3zm2 3zm0-1zm2-2zm2 5zm1-5zm6 6zm6-2zm0 3zm3-6zm5 6zm0-3zm1-4zm1 4zm2-3zm2 2zm5 3zm1-1zm2-5zm19 2zm2 5zm10-2zm1-2zm16-3zm7 6zm4-5zm7 3zm1-4zm3 1zm1 0zm0 6zm5 0zm2-7zm1 4zm1-4zm3 7zm0-7zm1 5zm4-2zm1-1zm0-1zm2 4zm0 2zm3-5zm1-2zm5 2zm0-1zm8 6zm2-7zm2 2zm3 4zm1 0zm10-2zm1 0zm0 1zm1-5zm1 0zm1 7zm1-7zm0 4zm1 3zm1-5zm1 5zm0-7zm2 6zm2-1zm1-2zm2 1zm2-3zm2-1zm0 1zm1 2zm4 0zm0 3zm11-6zm3 5zm7-2zm3 0zm1 2zm2-2zm0 2zm1-3zm1 3zm10-5zm1 1zm5 5zm4-4zm1-1zm22 4zm1-5zm1 6zm9-6zm23 6zm6-6zm-374 13zm15-3zm5 5zm3-7zm3 4zm3-4zm5 4zm7-2zm3-2zm5 3zm7 4zm0-4zm1 1zm0-1zm11 3zm1-2zm5 0zm1 3zm8-3zm0 3zm1-2zm4-5zm1 3zm1 3zm5 1zm3-5zm4 1zm5-1zm1-2zm4 1zm1 1zm1 5zm8-3zm12 1zm1-2zm4-1zm8 1zm6 0zm0 2zm5 1zm7-4zm0 1zm1 3zm5-4zm2 5zm3-1zm0-5zm1-1zm0 3zm1 2zm1-5zm1 4zm5-2zm2 3zm1-2zm2-3zm3 3zm2-2zm1 5zm1-5zm3 0zm1 0zm1 2zm2-1zm1-1zm2-1zm7 6zm4-5zm4 3zm6 2zm0 1zm1-6zm1-1zm0 3zm2-1zm1-1zm1 6zm1-3zm0-4zm1 5zm1-3zm1-2zm1 1zm3 5zm0-1zm2 0zm0-4zm5 1zm0 2zm1-1zm4 0zm4-3zm1 1zm5 2zm1 4zm1-6zm1 3zm2 1zm4-1zm2 2zm2 1zm7-2zm0 1zm0 1zm1 0zm1-2zm5-3zm3-2zm3 6zm1-4zm0 4zm4-3zm2 2zm2 1zm6-6zm0 1zm0 4zm0-1zm5-2zm11-1zm0 4zm13 0zm2-5zm2 3zm6 2zm-346 4zm1-1zm9 0zm1 4zm0-1zm4 0zm4 0zm3-3zm0 2zm1 0zm1 5zm3 0zm3-3zm2 1zm1-2zm2 1zm2-3zm0 2zm0 3zm1 1zm2-2zm2-3zm1 3zm1-1zm2-1zm1-2zm1 0zm2 5zm2 0zm0-1zm0 2zm4-2zm3 0zm1-1zm1-1zm5-3zm1 3zm9 4zm11-5zm1-2zm0 3zm0 3zm2-2zm0 3zm2-1zm4 1zm13-3zm0 3zm1-6zm2 2zm2 4zm2 0zm5-4zm5 1zm1-4zm1 6zm7-5zm0 5zm1-6zm7 5zm3 1zm6-1zm20-4zm1-1zm0 4zm1-2zm0 3zm1-3zm2 3zm1-3zm1 2zm0 2zm7-5zm0 4zm4 0zm1-3zm2-2zm2 2zm6 5zm1-1zm2 0zm1-1zm1 0zm5-5zm1 3zm0 2zm0-5zm5 6zm0-4zm7 2zm4-4zm1 7zm3-3zm0-4zm3 3zm0-1zm1-1zm1-1zm1 0zm0 6zm4-6zm1 6zm1-1zm1-2zm2 1zm1-2zm1 4zm2-2zm1 3zm1-3zm0 1zm1-5zm1 3zm1 0zm0-3zm4 0zm1 4zm3-1zm0-1zm0 3zm1 1zm2-2zm5-4zm4 5zm0 1zm2 0zm1-5zm0 3zm7-3zm2 5zm1-1zm1 0zm3-3zm0-1zm1 6zm1-3zm3 0zm6-4zm3 4zm3 0zm4-1zm1-2zm2 0zm8 5zm68-4zm-409 7zm12 6zm1-7zm2 7zm19-6zm0 4zm8-1zm1 2zm2 0zm5-6zm0 5zm2 1zm3-1zm1-5zm2 5zm1-5zm1 6zm0 1zm2 0zm2-7zm1 1zm0 2zm0-1zm0 3zm2-4zm2 2zm1 0zm0 3zm1 1zm4-7zm1 6zm2-5zm0 1zm2 3zm2 1zm0-6zm1 6zm1-1zm5 1zm3 0zm0 1zm2 0zm3-3zm0 2zm2-5zm1 5zm2-4zm2-1zm2 4zm1-5zm5 5zm10-1zm9 0zm11-4zm3 7zm2-4zm2 0zm3-3zm4 4zm2 0zm8-3zm1 0zm0 2zm1 2zm2-3zm0-1zm7 1zm7 4zm4-1zm3 2zm3-7zm1 6zm1-6zm5 4zm3 3zm2-2zm3 0zm0-3zm0 1zm2 0zm2 2zm1-2zm2-2zm1 6zm2-7zm1 7zm1-5zm1-2zm1 7zm3-1zm0-4zm6 1zm5 0zm0 4zm1-6zm1 0zm2 4zm1 1zm1-4zm1 5zm0-5zm0 2zm0 2zm4-5zm2 4zm4-3zm0 1zm1-1zm2-2zm1 5zm6-1zm1 2zm3-4zm0 2zm2 2zm1 1zm4-2zm6-1zm3 3zm1-7zm1 2zm3-2zm2 3zm3-1zm0 2zm3-2zm2 0zm1 4zm3-3zm1-3zm2 7zm5-7zm1 5zm3-2zm1 3zm4-5zm4 4zm4 2zm6-3zm5 2zm16 0zm13-5zm-363 11zm18-3zm4 5zm17-1zm7 2zm5-6zm1 2zm6 0zm3 0zm3 3zm3-4zm1 0zm8-2zm0 1zm3 3zm1 2zm0-6zm1 6zm1-2zm3 3zm0-1zm0-4zm0-1zm1-1zm0 2zm2 5zm3-7zm1 1zm0 5zm3-3zm1 0zm1-1zm4 5zm1-6zm3-1zm0 6zm3 0zm0-3zm1 3zm0 1zm10-3zm2-2zm6 0zm8 1zm2-3zm1 1zm4 1zm4-1zm8 0zm10 6zm8-5zm1 1zm2-1zm5 3zm2 2zm2-7zm2 6zm0-1zm1-4zm0-1zm4 6zm2-3zm3-1zm2 0zm0 4zm5-5zm0 1zm2 0zm2 0zm1-1zm2 4zm0-5zm2 4zm2 1zm4-1zm1-2zm0 3zm3-4zm3 6zm0-6zm1 6zm0-4zm2 3zm0-4zm1 0zm2 1zm4 2zm0-1zm1-1zm0 2zm8 1zm2-2zm0-4zm5 5zm0-1zm3 3zm0-7zm4 4zm1 2zm1-4zm4 4zm1 0zm0-5zm1 5zm0-5zm1 3zm1-2zm1-2zm3 2zm1 4zm2-5zm3-1zm3 4zm0 2zm3 1zm5-6zm2 0zm4 0zm0 1zm1 5zm1-4zm0 3zm4 0zm0-6zm3 0zm2 2zm0 3zm0 2zm1-7zm1 3zm0 1zm1-3zm0-1zm1 6zm2-6zm3 7zm2 0zm2-2zm8 2zm5 0zm14-5zm0 4zm-337 4zm11 2zm7 1zm6-3zm0 1zm6-2zm3 4zm0-5zm1 6zm1-6zm1 0zm3 1zm1 3zm4 3zm5-7zm3 7zm0-7zm2 2zm1 2zm1-1zm2 0zm4 2zm1-5zm0 2zm2-2zm3 3zm0 2zm0 2zm3-4zm4 3zm0-1zm0-2zm2-2zm0 1zm6 3zm1 1zm2-4zm15 3zm1-2zm2 4zm12-4zm0 3zm10 0zm1-1zm4-1zm2 1zm14 1zm2-2zm2-1zm6-3zm1 2zm4-1zm3 5zm1-5zm1 1zm1 0zm6-1zm1 3zm3 1zm1-4zm6 3zm0 3zm1-7zm1 3zm2 1zm0-1zm3 0zm0 2zm1-5zm4 4zm0-4zm2 7zm0-7zm2 3zm1-1zm1 3zm1-1zm2-2zm3 0zm0 1zm2 0zm2-3zm2 6zm1-1zm1-4zm0 3zm1 1zm0 1zm0-3zm2-3zm2 7zm1-5zm0 2zm2-4zm2 4zm4 0zm0-1zm1-1zm0 1zm1 2zm2-5zm0 1zm1-1zm1 6zm3-2zm1 3zm1-7zm0 6zm1-3zm0 2zm6-2zm5-2zm1 5zm1 1zm1-6zm1 3zm9-2zm0 3zm3-4zm5 6zm1-3zm1 1zm3-3zm2 4zm2-4zm3 5zm1-7zm4 6zm1-3zm2-3zm2 1zm0 6zm2-2zm4-1zm3 0zm0-1zm1-3zm1 5zm1-2zm4-3zm18 0zm5 2zm-341 7zm3 1zm24 5zm0-3zm2 2zm6-2zm4-3zm1 1zm4 2zm7-4zm2 5zm5-2zm3 0zm0-1zm4 5zm1-6zm2 5zm5-1zm0-3zm2 1zm0 1zm1 0zm3 1zm4 2zm2-2zm3-3zm2 5zm0-7zm1 6zm1-6zm4 5zm3 0zm1-4zm2 3zm5 3zm4-4zm6 1zm7 1zm1-5zm1 5zm13 1zm0-5zm3 1zm1 0zm0 3zm3-3zm0 3zm1-4zm0 6zm4-2zm1 0zm1 0zm0 2zm0-1zm4 0zm10-5zm2 6zm4-5zm0 3zm2 2zm3-5zm1 0zm1-1zm0 4zm3 0zm1-5zm3 4zm1 2zm0-2zm3-1zm3 0zm8-1zm2-1zm0 4zm3 0zm2-4zm3 1zm1 5zm4-7zm1 6zm0 1zm0-3zm1-4zm4 1zm6 0zm8 6zm1-7zm0 6zm1-2zm3-2zm1-1zm0-1zm0 2zm1 1zm0 4zm3-7zm0 5zm0 2zm5-2zm2 2zm1-4zm1-2zm3 4zm2-4zm1 2zm4 3zm5 1zm1-7zm0 3zm14-2zm2-1zm1 7zm7-2zm3 1zm1-6zm12 4zm0 3zm1-6zm1 3zm10-4zm3 2zm0 2zm2-4zm5 5zm5 2zm-334 2zm16 6zm5-5zm1-2zm3 5zm3-4zm6 0zm1 2zm4 0zm3 1zm6 2zm1-1zm1-2zm1 3zm0-2zm1 1zm2-5zm4 0zm5 6zm2 1zm0-2zm1-1zm2-4zm1 1zm0 4zm1 2zm1-5zm0 2zm1 1zm11 1zm9-2zm3 0zm6-1zm5-3zm2 2zm10 5zm5-5zm1-1zm10 6zm0-1zm10-2zm20 1zm2-1zm1 3zm1-4zm4-2zm0 2zm0 3zm1-3zm3 2zm7-5zm1 4zm1-1zm0-1zm7 1zm2-3zm2 1zm2 6zm0-6zm1 5zm3-3zm0 3zm1 0zm2-6zm1 3zm2 3zm1-6zm2 2zm0 2zm3 3zm1-4zm0 1zm1-4zm1 0zm5 6zm1-4zm7 2zm0 2zm4-6zm0 4zm2-2zm6 3zm2-4zm7 0zm0 1zm2-1zm0 6zm2-1zm1-1zm0 2zm3-5zm2 2zm5-4zm3 3zm2-1zm0 4zm2-2zm8 3zm1-4zm4 0zm8 4zm4-5zm3 0zm0-1zm10 0zm2-1zm2 0zm8 1zm8 2zm-332 8zm14 1zm8-4zm1 1zm2 0zm9-1zm4 1zm2 2zm0-1zm21 1zm5-3zm19 5zm2-5zm18 2zm4 0zm24 2zm1 2zm1 0zm2-3zm7 1zm6 1zm2-5zm3 4zm2 2zm4-2zm0 3zm10-4zm2-2zm10 2zm7-3zm2 5zm6-5zm3 2zm6 1zm8-3zm1 2zm3 3zm5-1zm2 0zm7-1zm9-1zm2 0zm13 1zm16 0zm10 3zm9-4zm21 1zm4 0zm5 3zm14-4zm-279 12zm0-3zm23 2zm51-5zm2 0zm3 0zm5 4zm6-3zm1 3zm1-4zm32 3zm2-3zm2 4zm49-3zm10 2zm24-3zm6 0zm133 0zm-394 11zm47 0zm35-3zm2 1zm95 0zm94 8z" stroke="#111" stroke-width="3.1" stroke-linecap="square" opacity="0.7" fill="none"/>
<rect x="118.3" y="119.5" width="31.7" height="13.9" fill="#fff"/>
<rect x="162" y="128.5" width="36.6" height="12.7" fill="#fff"/>
<rect x="119" y="181" width="30.6" height="17.8" fill="#fff"/>
<rect x="105" y="65" width="146.7" height="146.3" fill="none" stroke="#1a1a1a" stroke-width="1.15"/>
<path d="M101.2 79.7H105M101.2 117.3H105M101.2 157.3H105M101.2 189.8H105M103.2 105.9H105M103.2 99.3H105M103.2 94.7H105M103.2 91.1H105M103.2 88.2H105M103.2 85.7H105M103.2 83.6H105M103.2 81.7H105M103.2 145H105M103.2 137.9H105M103.2 132.9H105M103.2 129H105M103.2 125.9H105M103.2 123.2H105M103.2 120.9H105M103.2 118.8H105M103.2 173.1H105M103.2 169H105M103.2 166.2H105M103.2 163.9H105M103.2 162.1H105M103.2 160.6H105M103.2 159.2H105M103.2 158.1H105M103.2 184H105M103.2 187H105M103.2 193H105M103.2 196H105M103.2 199H105M103.2 202H105M103.2 206H105M120.3 211.3V215.1M136.5 211.3V215.1M172 211.3V215.1M205.4 211.3V215.1M238.2 211.3V215.1M147.2 211.3V213.1M153.4 211.3V213.1M157.9 211.3V213.1M161.3 211.3V213.1M164.1 211.3V213.1M166.5 211.3V213.1M168.6 211.3V213.1M170.4 211.3V213.1M182.1 211.3V213.1M187.9 211.3V213.1M192.1 211.3V213.1M195.3 211.3V213.1M198 211.3V213.1M200.2 211.3V213.1M202.2 211.3V213.1M203.9 211.3V213.1M215.3 211.3V213.1M221 211.3V213.1M225.1 211.3V213.1M228.3 211.3V213.1M230.9 211.3V213.1M233.1 211.3V213.1M235 211.3V213.1M236.7 211.3V213.1M110 211.3V213.1M113 211.3V213.1M116.5 211.3V213.1M124 211.3V213.1M127 211.3V213.1M130 211.3V213.1M133 211.3V213.1" stroke="#111" stroke-width="1.1" fill="none"/>
<text font-size="10" text-anchor="end" transform="translate(100.6 84.1) scale(1.08 1)" class="t">10<tspan dy="-3.3" font-size="6.8">5</tspan></text>
<text font-size="10" text-anchor="end" transform="translate(100.6 121.7) scale(1.08 1)" class="t">10<tspan dy="-3.3" font-size="6.8">4</tspan></text>
<text font-size="10" text-anchor="end" transform="translate(100.6 161.7) scale(1.08 1)" class="t">10<tspan dy="-3.3" font-size="6.8">3</tspan></text>
<text font-size="10" text-anchor="end" transform="translate(99.5 193.4) scale(1.08 1)" class="t">0</text>
<text font-size="10" text-anchor="middle" transform="translate(120.6 228.2) scale(1.08 1)" class="t">0</text>
<text font-size="10" text-anchor="middle" transform="translate(137 228.2) scale(1.08 1)" class="t">10<tspan dy="-3.3" font-size="6.8">2</tspan></text>
<text font-size="10" text-anchor="middle" transform="translate(172 228.2) scale(1.08 1)" class="t">10<tspan dy="-3.3" font-size="6.8">3</tspan></text>
<text font-size="10" text-anchor="middle" transform="translate(206 228.2) scale(1.08 1)" class="t">10<tspan dy="-3.3" font-size="6.8">4</tspan></text>
<text font-size="10" text-anchor="middle" transform="translate(239 228.2) scale(1.08 1)" class="t">10<tspan dy="-3.3" font-size="6.8">5</tspan></text>
<rect x="117.5" y="110.5" width="33" height="56.5" fill="none" stroke="#111" stroke-width="1"/>
<rect x="161" y="111" width="38.3" height="92.3" fill="none" stroke="#111" stroke-width="1.7"/>
<rect x="118" y="177.5" width="32.3" height="25.8" fill="none" stroke="#111" stroke-width="1.7"/>
<text font-size="13.8" text-anchor="middle" transform="translate(134.3 130.6) scale(1.1 1)" class="t">14.2</text>
<text font-size="13.8" text-anchor="middle" transform="translate(180.3 140.2) scale(1.1 1)" class="t">44</text>
<text font-size="13.8" text-anchor="middle" transform="translate(134.3 196) scale(1.1 1)" class="t">30.9</text>
<path d="M133.5 101V82.5H281" stroke="#111" stroke-width="1" fill="none"/>
<path d="M290 82.5L281 79.3L283.2 82.5L281 85.7Z" fill="#111"/>
<path transform="scale(0.2)" d="M2187 562l5 0 8-1 8 0 7 0 7 1 6 1 7 1 6 1 7 2 4 1 5 2 7 2 5 3 4 3 5 3 4 4 3 3 4 4 3 6 2 4 2 6 1 7-1 7-1 6-2 7-3 5-2 3-4 5-4 4-4 3-4 3-4 3-6 3-4 2-6 3-4 2-6 2-7 2-5 1-5 2-7 1-6 1-7 2-5 1-8 1-7 0-7 1-8 0-8 0-7-1-7-1-8 0-5-1-7 0-8 0-8-1-7 0-5-1-8-1-7-1-7 0-6-1-7-1-7 0-8-1-8 0-4 0-8-1-7 0-8 0-7 1-6 2-4 3-3 4-3 6-1 5-1 6-1 7-1 7 0 7-1 6-1 7 0 7-1 6-1 7-1 7-1 6-1 7-1 5-2 8-1 4-2 8 0 5-2 7-1 6-1 7-1 5-1 8-1 6-1 6-1 8-1 5-1 7 0 8-1 7 0 7-1 6 0 7 0 7-1 8 0 8 0 7-1 6-1 7-1 6-2 6-2 5-2 5-3 5-3 5-4 5-2 3-5 4-4 3-4 3-5 2-6 2-6 2-5 1-7 1-8-1-5-1-5-2-6-2-4-3-5-4-3-3-4-5-3-4-3-4-2-5-2-5-3-7-1-5-2-6-1-7-1-7 0-5-1-8-1-7 0-7 0-8-1-5-1-7 0-8-1-5-1-7-1-8-1-5-2-8-1-5-1-7-1-5-2-7-1-5-2-7-1-6-1-5-2-8-1-4-1-8-1-5-2-7-1-6-1-7-1-7-1-6 0-7-1-7 0-8-1-5 0-7-1-8-1-8 0-4-1-8-1-8 0-7 0-7 1-8 1-6 1-6 2-5 2-6 2-6 3-4 3-5 3-4 4-5 3-3 4-4 5-4 3-2 5-3 5-3 5-2 5-2 8-2 4-1 8-1 8-1 7 0 7 0 8 1 8 1 4 1 6 2 7 2 5 2 5 1 7 3 6 1 4 1 8 1 8 1 7-1 7-1 6-1 7-1 5-1 8-2 4-1 8-1 8 0 4-1 8-1 8 0 5-1 7-1 8-1 4-1 8 0 8-1 4-1 8-1 8-1 4-1 8-1 8-1 4 0 8-2 6 0 6-2 8-1 5-1 8-1zM2182 572l6 0 7-1 7-1 8 0 8 1 7 1 5 1 8 2 4 1 6 2 4 2 6 3 4 3 5 4 3 3 4 5 3 5 1 5 2 7 0 7-2 8-3 5-3 5-2 3-5 5-3 2-4 3-6 3-4 3-6 2-4 2-7 2-6 2-5 1-8 1-4 1-8 1-8 1-4 1-8 0-8 0-7 0-5-1-8 0-7-1-5-1-8-1-7-1-7 0-6-1-7-1-7-1-6 0-7-1-7-1-6-1-7-1-7-1-6 0-7-1-7 0-8-1-8 0-4-1-8-1-8 0-5 2-5 2-4 5-3 5-2 5-1 5-1 8-1 7 0 5-1 8 0 7-1 7-1 6 0 7-1 7-1 6-1 7-1 7-1 6-2 7-1 5-1 7-2 5-1 6-1 7-2 7 0 6-2 7 0 5-2 8 0 7-1 5-1 8 0 7 0 7-1 8 0 5 0 7-1 8 0 8-1 7 0 7-1 6 0 7-2 7-1 6-1 5-3 7-3 5-2 4-2 4-5 5-3 3-5 4-4 3-6 2-5 2-5 1-7 1-8-1-5-1-5-3-5-3-4-4-3-3-4-4-3-5-3-5-2-5-2-5-2-5-1-8-1-4-2-8 0-6-1-6-1-8-1-8 0-6-1-6 0-8-1-7 0-7-1-6-1-7-1-7-1-6-1-7-1-5-2-8-1-4-2-6-1-7-1-5-2-8-1-4-2-8-1-5-1-7-1-6-1-7-1-7-1-6-1-7 0-7-1-6 0-7-1-7 0-8-1-8 0-5-1-7 0-8 0-7 0-7 1-8 1-5 1-7 2-6 2-4 3-6 3-4 3-5 3-3 4-5 3-3 5-3 5-4 5-2 5-3 5-1 5-2 8-1 5-1 7 0 8 0 5 0 7 1 8 1 4 1 6 2 7 2 5 2 5 2 5 2 5 2 6 2 6 3 5 2 6 1 7 1 7 0 6-2 7-2 5-2 5-1 6-2 7-1 7-1 5-1 8-1 6-1 6-1 8-1 4-1 8-1 8-1 4 0 8-1 8-1 4-1 8-2 5-1 7-1 6-1 7-1 5-1 8-2 4-1 8-2 5-1 7-2zM2201 578l5 0 6 0 8 1 6 1 6 2 6 2 5 2 5 2 4 3 5 4 3 3 3 4 3 6 1 7 1 5-1 5-2 5-3 5-4 5-3 3-5 4-5 3-5 2-5 3-5 2-5 1-7 2-6 1-7 1-7 0-6 1-7 0-7 0-8 0-5-1-7 0-8-1-5-1-7-2-6-1-7-1-5-1-8-1-6-2-6-1-7-1-5-1-6-1-7-2-5-2-5-2-6-2-7-2-4-2-6-1-7-3-4-2-2-5 3-3 6-3 4-2 7-2 6-2 5-2 5-2 6-1 7-2 4-1 8-1 8-1 4-1 8-1 5-2 7-1 6-2 4-1 8-2 5-2 5-1 8-2 4-2 6-2 5-2 7-2 5-1 7-1 8 0zM1885 592l7 0 8 0 5 1 7 1 6 1 7 2 5 2 5 2 5 2 5 3 5 2 5 3 5 3 5 3 3 3 4 5 3 4 3 6 0 5 0 6-2 6-1 8-1 5-1 7-1 7 0 6 0 7 0 8-1 8 0 7-1 7 0 6-1 7-1 7-1 6-1 7-1 5-1 8-2 4-1 8-1 5-2 7-1 6-2 7-1 5-1 8-1 4-1 8 0 8-1 5 0 7-1 8 0 7 0 7 0 8-1 8 0 7 0 7-1 6 0 7-1 7-1 8-1 5-2 7-1 6-2 4-3 6-3 4-3 5-3 3-5 4-4 3-5 3-5 2-6 0-7 0-5 0-5-2-5-3-5-5-3-2-3-5-3-5-3-5-2-5-2-5-1-6-2-7-1-4-1-8-1-8-1-4 0-8-1-8 0-7-1-7 0-6-1-7 0-7-1-8-1-5-1-7-1-7-1-6-2-5-1-8-2-4-1-8-2-5-1-6-2-7-1-5-1-7-1-7-1-5-1-8-1-5-1-7 0-8-1-7 0-5-1-8 0-8 0-7-1-7 0-8-1-7 0-5 0-8 1-5 0-7 2-7 2-6 2-5 3-5 3-5 3-3 3-5 4-3 5-4 4-3 4-2 6-2 6-3 5-1 7-1zM2187 585l5-1 8-1 8 0 7 1 5 1 8 2 4 2 6 2 4 3 6 3 3 3 4 5 2 5 1 5 0 7-1 6-3 4-4 6-3 2-5 4-4 2-6 3-4 2-7 1-6 2-7 1-6 0-7 0-7 0-6 0-7 0-7-1-8-1-5-1-7-2-6-1-4-2-7-2-6-2-5-3-5-2-4-3-4-3-3-4 2-6 4-2 5-4 5-3 5-2 5-3 5-2 5-2 5-2 5-2 5-2 5-3 6-3 5-2 7-2 4-2zM1877 600l5-1 8-1 8 0 7 1 7 1 6 1 4 2 6 2 6 3 5 2 4 2 5 3 4 4 4 3 4 5 2 5 3 6 1 4 0 8 0 8 0 7 0 7 0 8-1 8 0 7 0 7 0 8 0 5 0 7-1 8-1 8-1 4-1 8-1 5-2 7-1 6-1 7-2 5-2 7-1 5-1 7-1 6-1 7-1 6-1 7-1 6-1 7 0 7 0 7 0 8 0 8 0 7-1 7 0 8 0 8-1 6 0 6-1 8-1 7-1 5-1 7-2 5-2 6-3 4-3 6-3 3-4 4-4 3-5 2-6 2-6 1-7-1-5-1-6-3-3-3-4-5-3-3-2-5-3-4-2-6-3-7-1-5-1-5-1-7-1-8-1-5 0-7-1-8 0-8-1-7 0-6 0-7-1-7 0-7-1-8-1-5-1-7-1-6-2-7-2-5-1-5-2-7-1-6-2-7-1-5-1-8-1-4-1-8-1-5-1-7-1-8-1-5-1-7 0-8-1-8 0-7 0-7 0-6 0-7-1-7 0-8 0-8 0-7 1-7 1-6 2-4 2-6 3-5 3-5 4-4 3-3 4-4 6-3 4-3 6-2 4-2zM2186 590l6-1 8-1 8 0 7 1 5 1 8 2 4 2 6 3 3 3 4 3 3 5 2 4 1 8-1 6-2 5-4 4-4 3-5 4-5 2-5 2-6 2-7 1-7 0-7 1-8-1-8-1-6 0-6-2-6-1-6-2-6-2-4-2-6-3-3-4-3-4 2-6 3-4 4-4 5-4 4-2 4-3 4-3 6-3 4-3 6-3 4-2zM1877 605l5-1 8-1 8 0 7 1 7 1 6 1 4 2 6 2 5 2 4 3 5 4 5 3 3 4 3 4 3 5 2 5 1 8 1 7 0 5 0 8 0 7 1 7 0 8 0 8 0 7 0 7-1 8 0 5-1 7-1 8-1 5-1 7-1 6-2 7-1 5-2 7-1 5-2 6-1 7-1 5-2 8-1 5-1 7-1 8 0 4-1 8 0 8 0 7 0 7 0 8 0 8 0 7 0 7 0 8-1 8 0 5-1 7-2 8-1 4-2 6-2 5-2 5-4 4-4 5-3 3-5 3-6 2-6 1-6-1-6-3-4-2-4-3-4-5-3-5-3-5-2-4-1-6-2-5-1-7-2-7 0-5-1-8 0-8-1-7 0-5-1-8 0-7 0-7-1-8 0-8-1-4-1-8-1-6-2-6-1-6-2-7-1-5-2-5-2-7-1-6-1-7-1-5-1-8-1-4-1-8-1-8-1-4-1-8 0-8-1-7 0-7 0-6 0-7 0-7-1-8 0-8 0-7 0-7 0-8 1-5 3-7 2-5 2-4 3-4 5-5 2-3 6-3 4-3 6-3 4-2zM2194 592l6 0 8 0 5 0 7 2 5 2 5 2 5 4 4 3 3 4 3 6 0 5-1 5-3 5-3 4-5 4-5 2-6 2-4 1-8 1-8 1-7-1-7 0-6-2-7-2-5-1-5-3-5-4-2-3-2-7 2-4 3-6 4-4 4-3 3-3 6-4 5-2 5-2 6-2zM1887 608l5-1 8 0 5 1 7 1 6 2 5 1 5 3 5 3 5 3 4 4 3 3 3 4 3 6 2 5 1 7 1 6 1 6 0 8 0 8 1 7 0 7 0 8 0 8 0 7 0 7-1 8-1 7-1 5-1 8-1 5-2 7-1 6-2 4-2 8-1 5-2 6-1 7-1 5-1 7-1 8-1 4-1 8-1 8 0 7 0 7 0 8 0 8 0 7 0 7 0 8 0 5 0 7-1 8-1 8-1 4-2 8-1 5-2 5-3 5-4 5-3 2-5 4-4 2-8 1-8-1-4-2-4-4-4-3-3-4-3-5-2-5-2-5-2-8-1-4-1-8-1-8 0-4-1-8 0-8-1-7 0-7 0-8 0-8-1-4 0-8-1-8-1-4-2-8-1-5-2-7-1-6-2-4-2-8-1-5-1-6-2-7-1-7-1-5-1-8-1-4-1-8-1-8 0-4-1-8 0-8 0-7 0-7 0-8-1-8 0-7 0-7 0-8 0-8 1-7 2-5 2-5 3-5 4-4 3-4 5-3 4-4 6-2 4-2 6-2 7-1zM2193 598l7-2 8 0 5 2 7 1 5 3 5 3 3 3 3 4 2 6-1 5-2 5-5 4-5 3-5 2-5 1-8 1-7 0-8-1-4-1-6-2-5-3-5-4-2-6 1-7 3-5 4-4 4-4 4-2 6-2zM1884 612l6 0 8-1 7 1 5 1 7 2 5 2 6 3 3 2 4 3 4 5 3 4 3 5 2 6 2 5 1 7 1 5 0 8 1 8 0 7 0 7 1 6 0 7 0 7 0 8-1 6 0 6-1 8-1 5-2 7-1 6-2 7-1 5-2 5-2 7-1 6-1 6-2 6-1 6-1 6-1 8-1 5-1 7 0 8 0 8 0 7 0 7 0 8 0 8 0 7 0 7-1 8 0 5-1 7-1 8-1 5-2 6-3 6-2 4-3 4-5 3-4 3-8 1-8-1-4-3-4-3-4-5-2-5-3-5-1-5-2-5-1-8-1-6-1-6 0-8-1-7 0-7 0-8-1-5 0-7 0-8 0-8-1-7-1-7-1-6-2-5-1-7-2-5-2-5-2-8-1-4-2-6-1-7-1-6-1-7-1-7-1-5-1-8-1-7-1-5 0-8-1-7 0-7 0-8 0-8 0-7 0-7-1-6 0-7 0-7 0-6 2-7 2-5 3-5 3-5 3-3 5-4 4-3 4-2 7-3 5-2zM2194 602l6-1 8 0 5 1 7 3 4 3 4 3 2 5 0 5-2 5-6 4-4 2-6 1-7 1-7-1-6-1-5-2-5-4-2-4 0-7 2-5 3-3 5-3zM1881 618l7-2 7-1 7 1 8 1 5 1 5 3 5 2 5 4 3 3 4 5 3 5 2 5 2 5 1 5 1 7 1 8 1 5 0 7 1 8 0 8 0 7 1 7 0 8-1 8-1 7-1 5-1 8-1 4-2 8-2 5-1 5-2 8-2 4-1 6-2 7-1 5-1 8-1 4-2 8 0 6-1 6-1 8 0 8 1 7 0 7 0 8 0 8-1 7 0 7 0 8-1 8 0 4-1 8-2 5-2 6-2 4-4 5-4 3-5 2-7 0-6-1-4-4-3-3-3-5-3-4-1-6-2-7-1-6-1-7 0-7-1-7 0-8-1-5 0-7 0-8-1-8 0-7 0-7-1-7-1-6-1-7-2-6-2-4-2-6-2-7-1-5-2-5-1-7-1-6-2-7-1-5-1-8-1-7-1-5-1-8 0-7-1-5 0-8 0-7 0-7 0-8 0-8-1-7 0-7 0-8 0-8 2-5 2-6 2-5 3-4 5-4 4-3 4-3 5-2 7-2zM2197 608l5-1 8 0 5 2 4 3 2 6-1 4-5 4-5 2-8 0-4-1-6-3-3-4 1-7 3-3zM1887 620l5-1 8 0 7 1 5 1 6 2 4 3 6 4 2 2 4 6 3 4 2 6 2 4 1 8 1 5 1 7 1 8 0 5 1 7 0 8 0 8 1 7-1 7 0 8-1 7-1 5-2 7-1 6-1 5-2 7-2 5-2 6-2 6-1 6-1 5-2 7-1 6-2 7-1 5-1 8 0 7-1 5 0 8 0 7 0 7 0 8 0 8-1 7 0 7 0 8-1 8 0 4-1 8-2 5-3 5-4 5-3 3-7 1-5-1-5-4-3-4-3-5-2-5-1-7-1-5-1-8 0-8-1-7 0-5-1-8-1-7 0-7-1-8 0-8 0-5-1-7-1-8-1-4-2-6-2-7-2-5-2-5-2-6-1-7-2-4-1-8-1-5-1-7-1-6-1-7-1-7-1-6-1-7 0-7 0-8 0-8 0-7-1-7 0-7 0-6-1-7 0-8 1-7 1-5 2-6 3-4 4-5 4-3 4-3 4-2 6-3 7-2zM1882 625l6-1 7-1 7 0 8 1 5 2 5 3 5 3 3 3 3 5 3 5 2 5 2 5 1 7 1 6 1 7 1 7 0 8 1 5 0 7 1 8 0 8 0 7-1 7-1 6-1 7-2 5-1 7-2 5-2 6-2 5-2 7-1 5-2 5-2 8-1 4-2 8-1 5-1 7-1 6-1 7 0 7 0 8 0 8 0 5-1 7-1 8-1 4-1 8 0 8 0 7-1 7-1 6-2 6-3 4-5 2-4 0-6-4-2-4-2-7-1-5-1-8 0-7-1-7-1-6-1-7-1-5-1-8-1-7 0-7 0-6-1-7 0-7-1-6-3-7-1-5-2-5-2-5-2-7-2-5-2-6-1-7-1-5-2-8-1-4-1-8-1-5-1-7-1-7-1-6 0-7 0-8 0-8 0-7 0-7-1-8 0-8-1-4 0-8 1-5 2-7 2-6 3-3 3-4 5-3 4-3 6-3zM1886 628l6-2 8 0 8 1 4 2 6 2 4 4 3 3 4 4 2 6 2 4 2 6 1 7 2 7 0 6 1 7 0 7 1 7 0 6 1 7 0 8 0 8-1 6-1 6-1 7-2 5-2 6-2 5-2 7-1 5-2 5-2 6-2 6-1 6-2 7-1 5-2 5-1 7-1 6-2 7 0 7 0 8-1 5-1 7-1 6-2 5-6 4-4 1-6-3-2-4-2-6-2-5 0-8-1-7 0-5-1-8-1-7-1-5-2-5-2-7-3-5-2-5-2-6-1-4-2-8-2-5-1-6-1-7-2-5-1-7-1-6-1-6-1-8-1-5 0-7 0-8 0-8 0-7 0-7-1-8 0-8-1-7 1-7 2-7 2-6 2-4 4-3 4-4 5-3 5-2 6-1zM1890 630l5-1 7 0 6 1 5 2 5 3 4 5 3 3 3 5 2 5 2 7 1 5 2 7 0 6 1 7 0 7 1 8 1 5 0 7 1 8-1 8 0 6-1 6-2 7-2 5-1 6-2 4-2 7-3 6-1 5-2 5-2 7-2 6-1 4-2 6-2 7-2 5-1 5-2 7-1 6-2 7 0 5-3 6-4 2-3-4-2-6-1-6 0-7-2-6-2-7-2-4-2-6-2-4-2-6-3-4-2-7-2-6-1-5-2-6-2-6-1-6-1-7-2-5-1-8-1-4-1-8-1-8 0-6 0-6 0-8 0-7 0-7-1-8 0-8-1-7 1-7 1-6 3-4 3-6 4-3 5-4 5-2 5-2zM1896 632l5 0 7 2 4 2 6 3 3 3 3 6 3 4 2 6 1 5 1 7 1 8 1 4 0 8 1 8 1 7 0 5 1 8 0 7-1 7 0 6-2 7-2 5-1 5-2 6-3 7-2 4-2 6-2 4-1 6-3 7-2 5-2 5-2 5-3 5-4 5-4 1-4-3-4-6-2-4-3-5-3-5-2-5-2-5-2-6-1-4-2-8-1-5-2-6-2-7-1-4-2-8 0-5-1-7-1-8 0-8 0-7 0-7 0-8-1-5 0-7-1-8 1-8 0-5 3-7 3-4 3-4 4-3 5-2 5-2 7-2zM1887 638l5-2 8 0 8 1 4 3 4 2 4 5 2 4 3 5 2 6 1 6 1 7 1 7 0 6 1 7 1 7 1 6 0 7 1 7-1 8-1 6-1 6-1 6-2 6-3 6-2 5-2 5-2 5-2 5-2 5-3 5-2 6-2 5-4 4-4 3-5-2-4-4-3-4-3-6-2-4-2-6-2-4-1-7-2-6-2-5-2-5-2-7-1-6-1-7-1-5-1-8 0-7 0-7 0-8 0-8-1-7 0-5-1-8 1-7 0-5 2-7 3-4 4-4 4-3 4-3zM1890 640l8-1 7 1 5 2 4 3 4 4 2 3 2 6 2 7 1 5 1 8 1 7 1 6 0 7 1 7 1 5 1 8 0 7 0 7-1 6-2 7-2 5-2 5-2 5-2 5-3 5-2 5-3 5-2 5-3 5-4 5-5 1-6-3-2-3-2-5-3-6-2-6-2-5-2-6-2-4-2-6-2-7-1-5-2-8-1-4 0-8 0-8 0-7 0-7-1-8 0-8-1-4 0-8 1-5 1-7 3-6 3-3 4-4 5-3 6-2zM1895 642l5 0 5 1 5 3 5 4 3 4 2 6 1 5 1 6 1 7 1 7 0 7 1 6 1 7 2 6 0 7 1 7-1 7-1 6-2 7-2 5-2 5-2 5-3 5-3 5-3 5-2 3-4 4-6 2-5-4-3-4-2-5-3-5-3-6-2-5-2-5-2-5-1-5-2-8-1-4 0-8 0-8 0-7 0-7 0-8-1-8-1-7 1-7 1-8 2-5 4-4 4-3 4-3 7-2zM1890 648l5-2 7 0 6 2 4 4 3 5 3 5 1 6 1 7 0 5 1 8 0 7 1 7 2 6 1 6 1 6 0 8-1 7-1 5-2 5-2 6-2 5-3 4-4 5-3 4-6 3-3 0-4-2-4-5-3-5-3-4-3-5-2-5-2-6-1-5-2-7 0-7 0-4 0-7 0-8 0-7 0-5-1-8-1-7 1-7 1-6 3-5 3-5 4-2zM1895 650l5 0 5 1 5 4 2 4 3 6 1 5 0 8 1 7 0 7 1 6 2 7 1 5 1 7 1 5 0 8-1 5-2 7-2 6-3 4-3 5-3 3-4 3-7 0-4-3-4-4-2-4-3-4-3-6-2-7-1-5-1-8 0-7 1-7 0-8 0-8-1-7-1-5 0-8 1-5 2-7 2-3 5-4 6-2zM1893 655l7 0 5 2 3 3 3 5 1 7 0 8 0 8 0 5 2 7 1 5 3 6 1 7 1 4 0 8-1 5-1 6-3 6-3 3-4 5-6 2-5-2-5-4-3-3-3-6-2-4-2-7 0-6 0-7 0-6 1-7 0-7-1-6 0-7-1-7 0-8 1-5 4-5 4-4zM1891 662l7-2 5 2 3 6 2 7 0 3-1 7-1 7 1 8 2 5 3 5 2 5 2 5 1 8-1 7-2 5-3 5-3 3-6 2-4-1-5-4-3-5-2-5-2-5 0-8 1-7 1-5 1-8 0-7-1-6-2-7-1-7 2-7 3-5zM1898 710l4 0 6 4 2 4 2 7 0 7-2 6-5 4-5 1-4-3-3-5-2-5 0-8 1-5 3-5z" stroke="#111" stroke-width="4.2" fill="none" stroke-linejoin="round"/>
<path transform="scale(0.25)" d="M1626 546zm135 25zm-30 12zm-59 7zm59-2zm135 1zm-212 8zm119-2zm63 7zm19 4zm-72 39zm-148 13zm110-1zm57 10zm7 36zm-167 12zm-47 21zm147 15zm-55 26zm102 20z" stroke="#777" stroke-width="3.6" stroke-linecap="square" opacity="0.6" fill="none"/>
<rect x="355.2" y="65.2" width="146.3" height="146.3" fill="none" stroke="#1a1a1a" stroke-width="1.15"/>
<path d="M351.4 78.5H355.2M351.4 111.5H355.2M351.4 145.8H355.2M351.4 180.4H355.2M351.4 191H355.2M353.4 101.6H355.2M353.4 95.8H355.2M353.4 91.6H355.2M353.4 88.4H355.2M353.4 85.8H355.2M353.4 83.6H355.2M353.4 81.7H355.2M353.4 80H355.2M353.4 135.5H355.2M353.4 129.4H355.2M353.4 125.1H355.2M353.4 121.8H355.2M353.4 119.1H355.2M353.4 116.8H355.2M353.4 114.8H355.2M353.4 113.1H355.2M353.4 170H355.2M353.4 163.9H355.2M353.4 159.6H355.2M353.4 156.2H355.2M353.4 153.5H355.2M353.4 151.2H355.2M353.4 149.2H355.2M353.4 147.4H355.2M353.4 195H355.2M353.4 199H355.2M353.4 203H355.2M373 211.5V215.3M386.6 211.5V215.3M421 211.5V215.3M455.8 211.5V215.3M488 211.5V215.3M397 211.5V213.3M403 211.5V213.3M407.3 211.5V213.3M410.6 211.5V213.3M413.4 211.5V213.3M415.7 211.5V213.3M417.7 211.5V213.3M419.4 211.5V213.3M431.5 211.5V213.3M437.6 211.5V213.3M442 211.5V213.3M445.3 211.5V213.3M448.1 211.5V213.3M450.4 211.5V213.3M452.4 211.5V213.3M454.2 211.5V213.3M465.5 211.5V213.3M471.2 211.5V213.3M475.2 211.5V213.3M478.3 211.5V213.3M480.9 211.5V213.3M483 211.5V213.3M484.9 211.5V213.3M486.5 211.5V213.3M361 211.5V213.3M364 211.5V213.3M367 211.5V213.3M376.5 211.5V213.3M379.5 211.5V213.3M383 211.5V213.3" stroke="#111" stroke-width="1.1" fill="none"/>
<text font-size="10" text-anchor="end" transform="translate(350.8 82.9) scale(1.08 1)" class="t">10<tspan dy="-3.3" font-size="6.8">5</tspan></text>
<text font-size="10" text-anchor="end" transform="translate(350.8 115.9) scale(1.08 1)" class="t">10<tspan dy="-3.3" font-size="6.8">4</tspan></text>
<text font-size="10" text-anchor="end" transform="translate(350.8 150.2) scale(1.08 1)" class="t">10<tspan dy="-3.3" font-size="6.8">3</tspan></text>
<text font-size="10" text-anchor="end" transform="translate(350.8 184.8) scale(1.08 1)" class="t">10<tspan dy="-3.3" font-size="6.8">2</tspan></text>
<text font-size="10" text-anchor="end" transform="translate(349.7 194.6) scale(1.08 1)" class="t">0</text>
<text font-size="10" text-anchor="middle" transform="translate(373.5 228.5) scale(1.08 1)" class="t">0</text>
<text font-size="10" text-anchor="middle" transform="translate(387.3 228.5) scale(1.08 1)" class="t">10<tspan dy="-3.3" font-size="6.8">2</tspan></text>
<text font-size="10" text-anchor="middle" transform="translate(421.7 228.5) scale(1.08 1)" class="t">10<tspan dy="-3.3" font-size="6.8">3</tspan></text>
<text font-size="10" text-anchor="middle" transform="translate(456.3 228.5) scale(1.08 1)" class="t">10<tspan dy="-3.3" font-size="6.8">4</tspan></text>
<text font-size="10" text-anchor="middle" transform="translate(488.8 228.5) scale(1.08 1)" class="t">10<tspan dy="-3.3" font-size="6.8">5</tspan></text>
<rect x="360" y="108.5" width="34.5" height="48.5" fill="none" stroke="#111" stroke-width="1.7"/>
<rect x="415" y="108" width="50" height="49" fill="none" stroke="#111" stroke-width="1.7"/>
<text font-size="13.8" text-anchor="middle" transform="translate(377 98) scale(1.1 1)" class="t">50.3</text>
<text font-size="13.8" text-anchor="middle" transform="translate(441 98) scale(1.1 1)" class="t">15.5</text>
<path transform="scale(0.25)" d="M599 1498zm25 3zm81 0zm-197 10zm28-2zm68-2zm121-2zm-107 13zm-128 6zm41-3zm-8 11zm40 1zm28-2zm83 4zm53-6zm-243 7zm2 2zm25 0zm23-2zm11 2zm13 1zm95 4zm30-1zm17-4zm-230 13zm28-1zm81 0zm27-6zm19 4zm1 2zm7-4zm17-1zm6 0zm31 0zm38 1zm13 1zm10 3zm-190 7zm8 2zm1-6zm37 6zm11-7zm2 1zm11 5zm25-2zm19 0zm6-3zm-179 8zm16 3zm20 1zm3-4zm31-1zm39 4zm9 3zm2-7zm4 7zm9-2zm2 2zm14-1zm23-2zm46 0zm71 0zm-297 4zm46 7zm44-6zm20 4zm10 0zm19-1zm5-2zm16 4zm19-2zm22 1zm21 2zm1-4zm-196 11zm3-3zm13 3zm8-4zm3-2zm23 6zm15 0zm24-4zm13-1zm4 4zm2-5zm6 3zm45 3zm33-2zm-230 4zm3 4zm3-1zm10 3zm15 1zm5-7zm15 7zm1 0zm11-3zm18 3zm37-1zm3-6zm1 1zm2 4zm0-4zm5 5zm10-5zm3 5zm5-4zm0 1zm9 0zm5-3zm1 6zm1-1zm1 2zm8-2zm3-2zm8 2zm17 2zm7-5zm26-1zm0 6zm11-3zm-252 6zm13 1zm2-2zm7 3zm8 0zm4 1zm6-4zm13 5zm2 1zm1-5zm2-2zm3 7zm1-2zm1 0zm0 2zm0-5zm2 4zm4-1zm10-5zm1 2zm9-2zm1 7zm8-2zm4-5zm1 7zm2-7zm5 3zm4 3zm7-6zm8 6zm4-2zm3 2zm4-6zm2 5zm8-2zm2-2zm3 0zm15 6zm32-2zm28-5zm15 1zm23 3zm12 2zm-254 3zm2 4zm2-2zm10-2zm7 5zm2-2zm9 0zm3-3zm3 3zm1 2zm1-5zm1 3zm1-3zm1 1zm0 2zm4-1zm1 4zm5-5zm0 4zm5-2zm0 2zm3-6zm0 4zm7 0zm3 0zm13 3zm2-4zm3-3zm1 7zm1-1zm5-2zm4-1zm12-3zm4 7zm1-3zm4-1zm1-1zm15 4zm1 0zm1-1zm6-4zm1 2zm3 3zm14 0zm1-5zm2 4zm6-1zm11-2zm4 4zm2-1zm5-4zm7 6zm20-2zm6-2zm29-1zm0 3zm27 2zm-289 7zm12-5zm4 1zm1 2zm3-3zm1 6zm3-1zm2-1zm3-3zm4 2zm0-3zm5 3zm1 1zm4 1zm9 0zm1-6zm1 2zm2 5zm0-6zm4-1zm1 3zm6 0zm6 3zm3-4zm1-1zm7 0zm1 5zm2 1zm3-5zm6-1zm6 2zm7-2zm5 2zm1 3zm1 0zm6 1zm7-4zm4 0zm1-1zm5 5zm3-2zm9 2zm1-2zm3 1zm4-1zm2 1zm2-2zm7-2zm1-1zm14 3zm20 0zm10-1zm4 2zm36-1zm2 0zm8 2zm28-2zm1-3zm24 4zm26-1zm7 2zm-368 9zm6-6zm2 1zm2 1zm12 1zm4-3zm5 5zm2 0zm0 1zm1-3zm4 2zm1-4zm5 2zm4 1zm4-1zm1-3zm1 5zm3-3zm0 3zm1-3zm0 2zm5 2zm3 0zm1-5zm3 0zm1-1zm5 1zm1-1zm9 0zm0 1zm2 2zm2 1zm1-1zm3 2zm4-3zm3 1zm2-1zm8 3zm2-2zm0 2zm5-3zm9 3zm7-1zm11-1zm5-4zm2 6zm2-1zm3-1zm21 1zm3-2zm4 4zm1-1zm1-6zm0 4zm3-2zm2 4zm1-5zm2-1zm9 0zm1 7zm3-1zm3-2zm2 1zm5-1zm2 1zm2 1zm22 1zm6-1zm2 1zm1-3zm2 3zm3-7zm6 1zm4 2zm1 4zm23-4zm10-3zm6 7zm64-3zm-380 6zm4 3zm4-1zm9 2zm4 0zm3-6zm1 1zm1 0zm3 6zm3-2zm13 2zm7-2zm1-4zm1 2zm0 3zm1 0zm0-3zm4-3zm3 1zm4 5zm1-1zm1 2zm4-3zm3 2zm1-2zm4-4zm3 5zm1-2zm0 1zm3 1zm2-4zm2 3zm2-4zm0 5zm1 1zm3-6zm4 3zm3-1zm4 0zm16 1zm4-1zm6-2zm8 3zm0 2zm3-3zm3 3zm0-4zm4 1zm1 3zm2-1zm3-3zm2 1zm2-1zm1 4zm1-4zm2 3zm1 0zm1-1zm14 3zm0-6zm2 2zm1 4zm2 1zm6 0zm0-1zm1-5zm1 0zm1 4zm2-1zm2-1zm6-3zm2 7zm4-3zm3 0zm13-1zm0 2zm1 0zm3-2zm0 4zm1-5zm5 0zm7 0zm6 2zm3 0zm8-3zm3 1zm6 5zm1-2zm6-4zm3 3zm5-2zm3 2zm3-3zm5 2zm3 3zm10-6zm0 7zm23-3zm67-1zm-407 10zm27 1zm7 0zm1-6zm11 5zm0 2zm4 0zm4-6zm1-1zm2 4zm12 1zm2-2zm1 3zm4 0zm3-4zm0-1zm1 6zm4-2zm2-1zm2 0zm0 2zm4 0zm1-1zm1 2zm2 0zm0-1zm6-5zm3 3zm2-1zm5-2zm11 3zm8 3zm3-3zm8-1zm21 2zm2 1zm2-6zm1 1zm1 4zm1-3zm3 1zm1 0zm0 3zm5-1zm4 2zm5-1zm2-6zm6 4zm3-2zm0-1zm2 5zm1-1zm2-5zm3 6zm2 1zm4-6zm1 4zm2 1zm2-4zm16 1zm11-2zm2 3zm2-4zm1 7zm0-4zm4 4zm2 0zm1-2zm7 1zm1 0zm6-5zm12 3zm3-2zm4 0zm0 3zm0-1zm4-1zm3 0zm0 1zm8 1zm3-4zm1 0zm5 0zm4 2zm42-1zm-346 12zm1-1zm2 0zm10-5zm4 5zm2-4zm2 3zm3 0zm2-4zm1 6zm4-3zm1 2zm3-1zm0-1zm3 3zm4 1zm1-5zm2 2zm1-4zm1 5zm2 2zm8-1zm2-2zm2-3zm0-1zm4 5zm1 1zm4-2zm1 1zm8 2zm4-2zm3 1zm0 1zm1-4zm1 2zm3-1zm5 2zm0-5zm2-1zm4 2zm13 5zm1-2zm4 2zm2-3zm0 1zm1 1zm3-3zm3-3zm3 5zm0-3zm2 3zm2-2zm5-2zm7 0zm3-1zm1 6zm0-6zm0 3zm2-3zm0 5zm2-3zm1 1zm9 1zm1 1zm1-4zm2 6zm0-2zm2-4zm3 1zm2 2zm2 1zm1 1zm5-3zm3 1zm2 2zm5-5zm2 1zm2 4zm7 1zm6-7zm4 3zm3 3zm3-2zm1 2zm2 1zm1-1zm0-4zm2 2zm1-4zm3 2zm7 2zm2 0zm2-3zm0 3zm0-4zm2 0zm0 2zm12 2zm1-2zm4 2zm7 1zm4 0zm1 1zm4-1zm1-4zm8 2zm16-2zm1-1zm4 5zm-321 7zm2 1zm24 0zm9 1zm2-4zm3 0zm4 3zm2-1zm5 1zm1-3zm4 2zm1 3zm2-5zm2-1zm1 3zm2 1zm4-5zm0 3zm1 2zm0-4zm3 3zm4 2zm0-1zm4-3zm1 5zm1 0zm2 0zm0-1zm3 1zm3 0zm2-7zm2 4zm16-3zm4 0zm1 5zm7 0zm10-5zm5 1zm1-1zm3 3zm2 3zm0-4zm1 1zm1-3zm0 4zm1 1zm1-2zm8-2zm1-2zm7 1zm4-1zm0 6zm1 0zm1-3zm1 1zm0-1zm5-1zm1 0zm2 2zm1 0zm1-2zm0 2zm1-2zm0 1zm5 1zm1-4zm5 6zm1-3zm0-3zm0 1zm1 6zm1-3zm2 0zm1-2zm11-2zm4 1zm0 3zm1-2zm4-2zm7 6zm4-5zm2 6zm3-2zm5 1zm1 1zm0-5zm3-1zm1 1zm0 4zm0-1zm1 1zm2-1zm1 0zm4-3zm1 5zm2-6zm0 5zm1-4zm1 0zm3-2zm3 3zm5 0zm4-2zm8 2zm1-1zm8 4zm2 0zm1-6zm2 4zm15-2zm4 3zm15-2zm11 4zm8-3zm-317 7zm1-1zm5-1zm11 0zm3 6zm3-1zm6-6zm0 2zm3 5zm2-1zm2 0zm1-4zm2-2zm2 3zm4-3zm1 0zm0 7zm4-6zm0 6zm2-6zm5 5zm4 0zm5 0zm1 1zm7 0zm0-5zm1 2zm2 1zm3 0zm4 2zm5-1zm1-5zm15 2zm1-2zm9 2zm3-1zm3 5zm4 0zm4 0zm3-7zm1 6zm2 0zm1-4zm3 0zm1 4zm6-4zm2 2zm0 1zm6 0zm5 0zm3 1zm1-6zm0 6zm4-5zm1 6zm4-4zm1-3zm2 0zm1 7zm1-6zm2 0zm1 0zm1 6zm2 0zm2 0zm2-6zm0 4zm8 0zm6-2zm0-3zm2 4zm2 0zm1-2zm4 4zm2-1zm2 2zm1-1zm4-6zm5 2zm5-2zm0 4zm3 1zm1-2zm2 4zm2-3zm2 3zm16-7zm8 2zm9 4zm3 0zm15-1zm-306 5zm4-2zm3 7zm4-2zm11 1zm4-2zm16 0zm3 1zm1 0zm3-4zm1 4zm1 0zm1-4zm0 3zm3 2zm1-3zm4 3zm4-3zm1 2zm1 2zm1 0zm3-1zm3-4zm1 3zm3 2zm0-1zm3-6zm2 1zm4 6zm11-7zm5 0zm3 4zm1 2zm2-6zm5 6zm5 0zm3 0zm12-1zm1-2zm2 0zm2-1zm7 4zm4 1zm6-5zm4 1zm2 1zm3-3zm4 1zm1 3zm4-4zm4 0zm1 1zm0 1zm0 1zm0 3zm14-7zm1 7zm2-3zm5-3zm2-1zm2 1zm1-1zm1 0zm1 1zm2 3zm1 3zm2 0zm2-4zm5 1zm1 3zm4-5zm1 3zm3-3zm7 2zm0-3zm4 3zm9-2zm1 0zm1 3zm2 2zm6-7zm1 7zm4 0zm0-1zm1 1zm14-4zm3 0zm15 1zm12-1zm7 3zm7 0zm2-6zm8 2zm-341 13zm18-5zm13 5zm2-4zm8 3zm0-6zm1 4zm2-2zm3 4zm0 1zm2-5zm4 3zm2-4zm3 0zm1 1zm2 3zm0-4zm0 3zm2 2zm2 1zm2-3zm1-2zm0-1zm3 4zm5-1zm4-2zm2 0zm0 2zm2 1zm0 2zm0-1zm4-6zm4 1zm1 0zm1 2zm2-2zm1-1zm0 4zm1-2zm13-2zm4 2zm3 5zm0-1zm2 1zm4-6zm2 4zm15-1zm0 3zm1-1zm6-1zm1 1zm2-6zm2 2zm1 5zm1 0zm1-7zm2 4zm6 0zm3-3zm0 6zm4-5zm1 5zm1-7zm2 2zm0 2zm1 3zm3-4zm1 0zm8 4zm4-6zm0 3zm8 3zm1-4zm1 4zm0-7zm2 7zm2-6zm4 3zm4-3zm2-1zm1 1zm0 3zm1-3zm6 4zm2 1zm1-3zm3 0zm1-2zm1 1zm4 4zm3-3zm1 3zm2-1zm0-5zm1 5zm1 0zm2 1zm1-6zm6 1zm5-1zm2 7zm1-5zm4 3zm1-3zm5 4zm1-3zm4 1zm2-1zm3-1zm12-1zm6 5zm2-2zm1 3zm7-3zm0-2zm10 0zm-291 11zm1-1zm11-3zm1 6zm2 0zm1-3zm1 3zm1-5zm0 1zm3-2zm0-1zm0 3zm4 4zm2-2zm5-4zm4 2zm1 1zm0 1zm1 1zm1-1zm1-4zm2 0zm3-1zm1 5zm1-4zm3 1zm1-1zm0 2zm1-1zm2 5zm1-5zm8 4zm1-5zm2 3zm1-2zm1 5zm2-3zm2 1zm9 1zm0-1zm5-5zm12 0zm0 5zm6-3zm10 1zm6 0zm2 2zm3-4zm1 0zm1 2zm1-3zm0 6zm4-3zm1-1zm1 5zm2-5zm2 5zm2-1zm2-6zm2 5zm1-4zm0 6zm3-2zm0 1zm1-4zm1-2zm1 1zm1-1zm3 2zm2-1zm4 5zm2-5zm2 4zm1-4zm2 3zm1 0zm2 1zm0-5zm0 1zm3 3zm5 0zm1-1zm0 3zm1-3zm3 4zm4-2zm0-4zm1 2zm1 0zm0-1zm3 4zm6 0zm2-5zm2 0zm2 5zm2 1zm10-1zm5 1zm0-7zm2 0zm1 6zm2-3zm5 2zm1-2zm0-1zm4 5zm6 0zm1 0zm3 0zm15 0zm6-1zm1-3zm10 0zm-320 8zm21 2zm12-5zm10 6zm4 1zm1-6zm2 2zm0 1zm8 0zm2-3zm1 5zm1-3zm2 0zm1 3zm2 1zm1-2zm4-1zm1-1zm0-1zm0 3zm1 0zm5 0zm2-3zm5 2zm1-1zm0 2zm4-2zm1-3zm2 2zm2 5zm1-5zm1-1zm0-1zm4 4zm1 1zm2 0zm1-3zm3-1zm0 1zm2-2zm0 2zm1 2zm3-3zm0-1zm12 4zm0 2zm8 1zm15 0zm2-1zm1 1zm0-7zm9 1zm6-1zm12 1zm1 6zm7-4zm0 4zm1-2zm1-5zm0 3zm2 3zm5 0zm0-4zm1 0zm3 4zm5-6zm3 5zm3-3zm1 5zm1-3zm3 2zm8-4zm1 0zm5 5zm2-3zm2-2zm0-1zm4 3zm2-4zm2 7zm1-6zm2 2zm1 4zm4-6zm3 1zm0 3zm4-1zm2-2zm1 3zm5-3zm3 5zm1 0zm12-7zm5 5zm3-3zm0-1zm7 0zm0 2zm13-1zm3 1zm22 3zm10-1zm-332 5zm7 4zm11-5zm10 4zm4-2zm3-2zm1-1zm6 0zm1 7zm2-3zm0 3zm4-2zm2-3zm1 4zm3-4zm2 1zm1-2zm0 4zm2 0zm0-4zm2-1zm2 2zm1 1zm1 2zm1-2zm0 4zm4-4zm0-3zm2 0zm3 6zm1-3zm4-1zm0-1zm1 0zm1 2zm2 2zm3 1zm3 1zm4-4zm1 2zm0-3zm1 5zm8-2zm6-3zm0 4zm3-2zm3-3zm0 4zm1-5zm5 5zm2 2zm2-4zm6 1zm4 0zm4-4zm0 5zm1-5zm0 4zm1-1zm4 0zm3 4zm2-3zm7-4zm0 4zm1 2zm6-6zm2 7zm2-6zm1 3zm1-3zm2 1zm1 0zm1 2zm4 0zm0 3zm1-1zm1-6zm0 5zm2 2zm2 0zm2-1zm3 0zm1-6zm2 4zm2-1zm1 1zm4-2zm2 1zm1 3zm7 0zm0-1zm6 1zm2-2zm3-4zm4 4zm1-3zm0-1zm0 3zm3 0zm2-1zm0 3zm3-1zm3 1zm4-1zm0-2zm2-1zm1 6zm0-5zm2-1zm3 2zm0 2zm2-5zm2 7zm0-7zm4 1zm0 2zm1 1zm3 2zm1-5zm3 6zm1-7zm0 7zm3 0zm3 0zm3-1zm1 1zm4-2zm6-3zm2 3zm3-5zm2 0zm3 2zm2-1zm5 2zm3-2zm9 5zm-311 8zm7-3zm13 4zm2-3zm0 1zm5-3zm10 5zm2-7zm1 6zm5 0zm6-4zm2 4zm3 0zm1-1zm1-5zm6 3zm0 2zm1-5zm3 4zm3-2zm1-1zm4 6zm1-3zm0 2zm4-4zm0 5zm3-4zm2 4zm0-7zm6 0zm1 7zm1-7zm5 4zm1 1zm7-5zm2 4zm0 2zm13 1zm3-4zm16 2zm7-4zm4 3zm2-2zm0 3zm1-4zm0 4zm1-1zm6-2zm6 4zm1-5zm1 0zm1-1zm3 1zm3 2zm1 0zm2 0zm3 4zm1-7zm2 6zm3-3zm2-3zm0 4zm3 0zm2-4zm10 1zm1 6zm2-6zm1 1zm0 3zm1-1zm0 3zm5-6zm1 6zm5-5zm0 3zm3 1zm1-5zm3 1zm3-2zm1 6zm1-5zm1-1zm9 5zm0 1zm3-5zm7 4zm1 2zm1-3zm3 0zm6 1zm4-3zm8 3zm3 2zm14-4zm0 4zm0-6zm8 2zm8 3zm6 0zm2 1zm1-1zm4-5zm-317 14zm19-4zm1 2zm1 0zm3-1zm3 3zm3-5zm0 3zm5-3zm2 3zm5-4zm5 1zm0 5zm1-3zm3-2zm7-1zm1 6zm1-4zm1 2zm2-5zm3 4zm11-4zm4 6zm9-5zm9 4zm8 0zm8-2zm3 2zm7 0zm1 1zm8-2zm0 3zm3 0zm3-1zm0-4zm4 3zm3-5zm0 3zm2 2zm2 1zm2-4zm1 5zm12-3zm1 2zm0-1zm1-5zm2 6zm1-3zm1 3zm2-2zm3 1zm1-3zm1 5zm3-2zm5-3zm1 1zm1-3zm5 2zm3 0zm6 0zm4 5zm0-1zm1-6zm2 0zm1 5zm0 1zm1-2zm3-4zm4 1zm4 5zm2-6zm1 0zm0 5zm3-5zm0 2zm6 5zm3-2zm3-2zm2 0zm3-1zm7 5zm5-7zm4 3zm1 4zm4 0zm17-6zm3 6zm20-3zm24 1zm9 2zm-352 8zm9-4zm5 2zm5 1zm6 0zm6-5zm6 1zm2-1zm0 2zm2-3zm9 5zm1-5zm1 2zm2 2zm1 3zm3-4zm1 2zm4-4zm1-1zm3 5zm2-3zm1-2zm3 2zm1-2zm1 0zm0 3zm3-1zm1 5zm12 0zm1-2zm1-1zm0 1zm2 0zm0-5zm12 1zm1 3zm6 3zm6 0zm1-2zm16 2zm1-3zm7-3zm2 2zm4 2zm8 1zm9 1zm2-6zm6 0zm4-1zm1 0zm1 7zm2-5zm5 4zm2 1zm6-6zm2 0zm1 1zm1 1zm0 2zm1-2zm1 0zm1-1zm1 1zm2-2zm5 2zm1-3zm3 6zm1-6zm0 1zm1 4zm1-3zm1 3zm1 2zm4-4zm2 1zm1 1zm1 0zm1-1zm1-4zm1 3zm1 2zm3-5zm5 2zm4 3zm1-5zm4 7zm3-1zm1-2zm3 0zm3-3zm1 6zm6-1zm20 1zm3-6zm3 4zm0 1zm8-3zm19 3zm4-1zm8-1zm14 0zm17-4zm-359 15zm7-5zm2 4zm23 0zm3-6zm2 3zm9 2zm4-1zm3-3zm3 6zm1-7zm4 3zm5 0zm1-2zm0 1zm1 1zm1 1zm1 0zm3-4zm2 1zm0 2zm4 3zm0-2zm0 3zm4-5zm2 3zm1-3zm3 3zm9-4zm4 4zm1 0zm2 0zm8-2zm4 1zm12 2zm3 1zm1-6zm1-1zm1 2zm6 2zm6 0zm1 1zm8-1zm2 1zm2-2zm1 0zm3-1zm4 2zm0 3zm3-3zm3 0zm1-4zm0 3zm5-1zm0 4zm6-4zm2-1zm0 4zm6-5zm0 2zm3 5zm1-5zm5 4zm1 1zm0-5zm2 0zm0-1zm1 0zm1 2zm1-3zm1 1zm1 3zm1 1zm1 1zm1-5zm0 5zm4-1zm1-2zm1 4zm2-1zm0-3zm3-1zm4-1zm2 6zm1-3zm1-3zm18 6zm1-4zm4 2zm4-4zm3 4zm6 1zm0-3zm4-1zm1 3zm5-3zm2 5zm7-3zm2-3zm3 0zm6 3zm1 3zm1-6zm11 4zm10-3zm-293 12zm2-5zm1 5zm1-6zm2 1zm6 3zm2-2zm10 5zm0-5zm5 3zm2-4zm0 4zm2-5zm3 1zm0-1zm1 5zm5-4zm1 5zm2 1zm2-7zm2 7zm2-5zm2 5zm2 0zm3 0zm8-2zm4-5zm0 1zm1 5zm1 1zm0-4zm0 2zm3 1zm22 0zm13-6zm1 5zm7 0zm8-1zm1 3zm1-4zm3-3zm1 5zm3-3zm11-1zm3 5zm4-2zm1 0zm3-1zm8 2zm6 1zm1-3zm0-3zm0 2zm1 3zm7-5zm1 0zm1 3zm0 2zm2 2zm3-6zm1 4zm1 0zm4-2zm0 3zm0-1zm3 2zm7-7zm3 5zm0-5zm0 3zm1 4zm0-7zm2 4zm0-4zm0 1zm1 6zm7-4zm0 3zm0 1zm1-3zm7-4zm2 5zm4-5zm3 1zm2 1zm1 4zm2-6zm1 6zm1 0zm4-3zm5-2zm8 2zm24-3zm7 1zm15 6zm37-7zm-352 12zm0 2zm2-6zm9 4zm1-4zm7 2zm1-1zm2 4zm4-1zm1-2zm3 5zm0-7zm2 5zm2-5zm1 7zm0-2zm1 0zm2-2zm5-3zm2 2zm1 4zm0-4zm1 4zm3-4zm15 1zm1 2zm6-5zm1 0zm3 2zm1 3zm4-4zm1 3zm1 0zm3 0zm28-1zm6-1zm3-1zm1 2zm1 1zm1-2zm3-1zm7 3zm7-2zm5 5zm5-6zm0 5zm1-4zm0 2zm1-4zm0 3zm2 2zm1-4zm1 6zm1-1zm1-4zm4-1zm0-1zm2 6zm1-4zm1 0zm6 1zm0 2zm0 1zm4-2zm0 2zm1-2zm2-3zm2-1zm1 3zm11 2zm2-5zm2 4zm0 3zm4-3zm2-2zm2 1zm2 2zm3-2zm1 3zm7-6zm9 6zm1 1zm1-5zm1 3zm0 2zm1-3zm4-3zm1-1zm8 6zm5-2zm2 2zm2 0zm2-3zm9-1zm5 4zm57-3zm-314 5zm1 2zm1 1zm3 3zm5-4zm7 2zm2 0zm3 2zm2-4zm4-1zm2 4zm1 2zm2-1zm3 1zm4-2zm0-4zm2 6zm1-3zm7 2zm2-5zm1 0zm19-1zm21 5zm7-3zm4 0zm4 0zm2 5zm1-7zm1 6zm0-5zm0 2zm2 2zm6 2zm5-3zm11 1zm8 2zm4 0zm0-2zm1 1zm12-2zm6-4zm0 4zm1-4zm3 7zm1-3zm1-2zm4 3zm1 2zm0-3zm1 1zm4-3zm0 1zm1 4zm0-7zm2 0zm0 2zm1 3zm2-5zm3 7zm2-7zm3 7zm2 0zm6-1zm9-1zm9-2zm0 3zm5-4zm11 0zm1 4zm3-1zm1-5zm5 5zm5-4zm4 2zm5 4zm15-4zm88-3zm-409 15zm21-5zm2 4zm7-5zm10 1zm7 1zm8 4zm2 0zm10-5zm3 1zm3 0zm1 1zm15-2zm3 4zm4-3zm0-1zm3 4zm0-6zm5 6zm2-2zm10 2zm1-4zm1 5zm2-3zm4-3zm17 5zm3-5zm0 3zm11-3zm1 1zm5-1zm0 1zm3-2zm2 2zm1 3zm5 0zm5-2zm1 2zm0 2zm1-6zm3 1zm1-1zm0 1zm5 1zm1 0zm3 4zm5 0zm2-5zm1 2zm1 2zm1 0zm1-5zm3 1zm2 5zm1-5zm0 3zm3 1zm0-1zm1-3zm0 2zm1-2zm0 3zm1-3zm0 2zm3 3zm4-5zm3 4zm3-4zm2 0zm7 3zm0 2zm1-5zm1 5zm1-6zm1 6zm2-4zm1-3zm3 7zm2-5zm1 0zm9 0zm8-2zm8 0zm0 4zm2-1zm2 3zm4 1zm0-1zm11-4zm3 5zm10-4zm4-2zm12 1zm8 5zm-323 5zm26-2zm4 4zm13 0zm1-4zm8 2zm4-4zm7 4zm2 3zm3-7zm10 5zm4-2zm3 2zm1-5zm1 6zm3-1zm9-5zm2 1zm1 1zm2 2zm7-1zm4 1zm3-2zm4 1zm4-3zm4 6zm4-2zm14-3zm7 3zm2-1zm1-2zm5 5zm1-3zm4-2zm1 4zm7-5zm0 3zm5 0zm6 1zm0-2zm1 3zm0-2zm4 1zm1-4zm4 3zm0 4zm0-5zm1 1zm0 2zm2 1zm0 1zm5-3zm2 1zm3 0zm1-4zm1 2zm4 4zm0-7zm1 5zm5-4zm8 1zm2 5zm1-4zm0 3zm2 1zm1-5zm2 4zm1-3zm1 2zm0-5zm2 3zm8-1zm8 0zm2 4zm2-3zm3-1zm3 5zm1-5zm3-2zm1 6zm1-6zm0 7zm1-7zm4 4zm7 0zm3-4zm0 3zm17-3zm3 5zm7 2zm7-1zm3-5zm-341 13zm36 1zm19-5zm0 5zm2-5zm2 5zm2-7zm0 4zm3-1zm1-3zm3 7zm2-3zm4 3zm1-7zm2 3zm0 2zm2-4zm1 0zm1-1zm2 1zm0 4zm0 1zm3-1zm1-5zm0 5zm2 2zm3-1zm5-2zm2 2zm2-5zm2 0zm6-1zm5 0zm20 7zm1-7zm1 0zm1 2zm4 1zm0 2zm2-1zm1 1zm3-4zm3 2zm3 4zm4-5zm1 2zm4 2zm2 1zm4-1zm3-3zm2 4zm6-1zm0-6zm3 2zm0 2zm1-1zm3-2zm0 4zm2-1zm2-3zm3 3zm1-4zm0 2zm4 5zm3-7zm0 7zm3-5zm2-1zm2 0zm1-1zm3 7zm2-1zm2-3zm1-3zm3 7zm6 0zm1-7zm0 3zm5-3zm2 6zm2-6zm3 3zm8-1zm7 1zm2-1zm0 2zm4 1zm3-4zm1-1zm3 5zm7-5zm5 6zm4-4zm1-2zm2 0zm11 5zm9-4zm14 3zm2-3zm2 1zm2 5zm52-3zm-337 7zm21 1zm2 1zm1 0zm6 1zm0-1zm3 1zm1 0zm4 0zm0 1zm1-7zm0 7zm1-7zm0 5zm13 1zm14-6zm3 1zm3 5zm4-6zm2 4zm21-1zm8 0zm5 2zm1 0zm4 2zm19-5zm5 1zm1-1zm7 0zm3-1zm1 5zm0-1zm2 2zm0-6zm1 4zm4 0zm3 0zm4 1zm0-5zm4-1zm0 3zm3 3zm3-3zm1 3zm2 0zm2-5zm2 5zm6-3zm1-1zm0 4zm1-4zm2 0zm1 0zm2 3zm3 2zm0-7zm2 7zm0-5zm0 3zm6-4zm3 5zm1-1zm3 2zm2-5zm1 3zm6 1zm6-1zm5 0zm4-4zm1 0zm4 1zm1 3zm10-5zm0 1zm4 6zm1-2zm20-4zm8 5zm1 0zm4-6zm99 7zm-428 1zm23 7zm14-3zm3-3zm0 3zm3-4zm2 1zm2 3zm9-1zm4 4zm3-2zm3 1zm3-3zm1 3zm3-2zm2 2zm1-5zm0 3zm2-3zm0 6zm3-5zm2 3zm0-5zm1 4zm2 3zm5-2zm1 2zm1-3zm1-3zm2 2zm5-1zm3-2zm1 5zm2 1zm6-2zm1-2zm2-2zm9 5zm9-5zm2 6zm8 0zm2 0zm6-5zm2 5zm4-4zm0 4zm2-6zm1 1zm10 0zm3 0zm0 6zm1-2zm4 1zm1-1zm4-4zm12 6zm2 0zm5-1zm2-1zm2 2zm1-5zm3 3zm3-2zm0 2zm1-4zm1 0zm1 4zm2 2zm1-6zm2 2zm1 1zm1-3zm0 6zm2-6zm3 6zm0-1zm4-1zm1 0zm2 0zm0 2zm1-3zm3-1zm0 2zm1 0zm1-1zm1-4zm3 2zm1 4zm2-6zm1 3zm7-2zm13 4zm12 2zm8-5zm4 3zm10 1zm1-5zm3 4zm1 0zm6-4zm1 6zm9-3zm2 1zm2-4zm-310 8zm2-1zm15 5zm2-2zm6 4zm1-4zm3 2zm2 0zm4-1zm2-2zm1 2zm1 2zm2-3zm2-2zm0 5zm3-4zm0 1zm0 1zm1-3zm1 1zm2-1zm0 4zm5 1zm0-4zm1 2zm1 2zm0-4zm3-1zm4 0zm2-1zm2 4zm6-3zm9 1zm1 3zm7-2zm1 1zm2-2zm1-1zm4 5zm7-1zm2-4zm17 3zm0 1zm6-2zm11-3zm3 3zm2 4zm0-3zm3-3zm0 6zm2-4zm7 2zm0-5zm1 6zm2-4zm2 3zm1 1zm12-3zm1 1zm2 2zm1-6zm8 0zm1 1zm4 1zm1-2zm0 4zm5-2zm0 1zm5 4zm3-2zm2-3zm0 2zm2 2zm4-2zm0 3zm0-5zm1-2zm1 6zm2 0zm1-1zm1-4zm5 5zm7-6zm0 4zm7 0zm4 0zm2-2zm1 0zm1-2zm2 2zm3-2zm5 3zm2 2zm1-2zm2 0zm6 4zm0-7zm2 6zm5-6zm2 2zm3 4zm3-1zm12-4zm6 5zm1-2zm1-1zm22-3zm-330 12zm15 1zm6 0zm2 0zm1-2zm2-1zm0-1zm1 6zm1-3zm4 0zm1 2zm2 0zm8-6zm5 0zm0 2zm3 1zm3 0zm3 2zm1 0zm2-3zm4-1zm1 2zm0 4zm3-4zm0 2zm4-4zm2-1zm3 7zm1 0zm3-4zm1 2zm2 0zm1 1zm13-4zm10 3zm1 2zm8 0zm4-1zm1-1zm3-4zm14 3zm3-1zm1 1zm4-2zm0 2zm0 2zm7-5zm1 6zm0-7zm4 7zm0-5zm1-2zm1 4zm0 3zm2-4zm0 3zm1 0zm5 1zm2-2zm1-2zm2 0zm3 4zm6-7zm3 2zm1 1zm2 4zm0-5zm1 5zm2-4zm4-2zm4 5zm2-5zm8-1zm0 2zm0 2zm5-1zm3 0zm1 3zm0-5zm0 2zm0 1zm2 1zm4 2zm0-5zm1-2zm2 3zm0 2zm1 0zm2-3zm0 5zm1-1zm1-5zm2 4zm0 1zm1 1zm3-2zm1-4zm0 2zm1 3zm1-4zm2 5zm1-3zm3-3zm9 6zm4-6zm2 2zm1-1zm5 2zm0-1zm2-2zm1 5zm13 1zm3-7zm8 1zm12 2zm13 3zm46 1zm-344 4zm14-3zm4 6zm0-6zm0 3zm0 2zm3 2zm5-1zm1-1zm5-4zm8 1zm2-1zm1-1zm10 6zm1 0zm1-5zm0 6zm3-6zm11-1zm1 5zm2-4zm12 6zm2-1zm11-2zm2-2zm5 3zm0-4zm7 2zm5 3zm17-2zm0 2zm2-1zm2 2zm0-1zm4 0zm1-1zm4 2zm4-5zm1 0zm0 1zm0 3zm1-3zm2 0zm3 1zm0 2zm1-2zm1-2zm2-1zm5 6zm2-6zm4 6zm8-2zm2-3zm1 0zm1 4zm1-6zm1 0zm3 7zm2-2zm1-5zm7 0zm0 7zm1-5zm0 2zm1-3zm0 3zm3 0zm2-2zm1 4zm1-1zm1-4zm2 1zm2 3zm2-1zm3-2zm0 2zm3 0zm1 1zm3-4zm2 1zm2 1zm0 2zm0-3zm3 1zm1 2zm7-5zm1 6zm1-5zm4 1zm0 5zm5-2zm3-2zm6-3zm2 4zm3 0zm4-1zm21 4zm61-6zm-366 7zm8 0zm3 4zm3 1zm5-4zm13 2zm3 2zm1 0zm6 2zm2-7zm0 7zm2-4zm2-2zm0 3zm0-2zm1 4zm1 1zm1-5zm4 1zm1-3zm1 5zm2 1zm2 0zm5-1zm0 2zm2-4zm4 1zm1-4zm3 6zm1 1zm2-7zm2 5zm7 1zm1-5zm1 1zm2 3zm2-3zm3 0zm13 3zm2-3zm1 0zm0 4zm1-5zm6 5zm2-1zm3 2zm2-7zm6 6zm1-6zm1 5zm7-1zm1-2zm1-2zm0 4zm1 2zm3-4zm11-2zm7 0zm0 3zm2 4zm5-4zm0-1zm1-1zm1 4zm2 0zm2-4zm2 5zm4 0zm1-3zm1-1zm4 0zm2-1zm1 2zm1-2zm2 3zm1-1zm0 1zm3 1zm1 2zm3 0zm1-6zm2 2zm2-3zm0 3zm2-3zm0 1zm0 5zm1-1zm1 0zm0-4zm4-1zm1 0zm1 1zm0-1zm1 6zm1-4zm5 1zm1-2zm1 0zm2 6zm2-7zm2 6zm1 0zm2-1zm1 1zm6-1zm1 1zm6 0zm9-2zm6-1zm1-1zm6 1zm1-2zm1 4zm21-3zm13 2zm-321 7zm15-1zm2 2zm8-1zm15-2zm1 5zm1-6zm5 1zm0 3zm1 3zm3-7zm0 2zm1 0zm2-1zm2 6zm1-7zm2 6zm1-1zm2-3zm1 0zm4 5zm2-5zm1 4zm6-5zm6 3zm0 3zm2-1zm5-1zm9-3zm1 1zm1 3zm1 1zm6-2zm16 1zm7-6zm2 4zm5 2zm5-3zm2 4zm1-6zm2 0zm2 2zm2-2zm3 6zm1-6zm2 5zm0-6zm4 2zm8 0zm0 5zm2 0zm6-1zm6-2zm6 0zm2-1zm1-3zm2 7zm1 0zm1-7zm3 7zm1-3zm2-4zm1 0zm3 3zm1-2zm0 3zm1-1zm2 3zm0-4zm2 2zm1 2zm1-4zm0-1zm0 3zm2 0zm0 3zm2-4zm4 3zm5-5zm1 4zm0-3zm4-1zm1 4zm7 2zm3-5zm5-2zm1 7zm3-2zm2-5zm0 5zm8 1zm2 0zm1-3zm2-3zm3 1zm4-1zm1 5zm1-1zm2-2zm13-2zm35 1zm18 2zm-336 7zm3 2zm2-3zm0-1zm9 3zm7 0zm2 0zm3 2zm3-3zm2 1zm3-1zm9 5zm1-6zm0 2zm3 1zm0-4zm1 3zm0-3zm3 2zm3 3zm2-4zm0-1zm0 5zm1-4zm3-1zm1 5zm1-2zm1 3zm1 1zm0-7zm9 5zm1 1zm8-2zm1-2zm9 3zm5 1zm2-5zm3 2zm6-1zm2 1zm8 4zm7-2zm5-2zm2 3zm4-3zm4 4zm6-7zm1 3zm1-1zm1 4zm0-4zm1-1zm3 2zm6 1zm1-2zm8-2zm0 5zm10-3zm1 2zm5-2zm6-2zm2 0zm0 4zm1-1zm1-3zm1 5zm3 1zm1-4zm1-2zm2 4zm6-3zm2 6zm2-7zm2 6zm1 0zm0-5zm1 1zm0 2zm1-2zm3 5zm2-3zm0 2zm3 0zm2-3zm1 3zm5-5zm4 5zm1-5zm4 3zm1-4zm0 2zm1 3zm0-5zm6 3zm7 3zm9-3zm1-2zm3 5zm14-5zm7 6zm8 0zm1-7zm19 6zm-335 9zm29 0zm1-1zm11-2zm3-2zm3 5zm3-5zm0-1zm1 6zm3-7zm7 2zm1-2zm8 3zm3 0zm2-3zm4 2zm2 3zm2-1zm3-2zm2 3zm0-1zm8-4zm6 3zm2-3zm3 5zm18 1zm7-1zm1-5zm5 2zm7-1zm6 3zm3-4zm4 1zm1 3zm1 1zm1-5zm1 5zm5 0zm0 2zm4-4zm3-1zm6 2zm3-3zm2 1zm2 1zm7 2zm0-4zm1 2zm0 3zm2-1zm3-4zm2 2zm4 1zm1-2zm11-2zm0 5zm3-5zm1 4zm2 1zm1-5zm6 0zm5 5zm2 0zm1-4zm0 4zm1-4zm2 6zm1-4zm1 1zm0 2zm1 1zm1-6zm3 0zm6 2zm1 3zm1-2zm1-3zm0 2zm5 2zm3 1zm5-3zm11 2zm7-1zm18 3zm11-4zm1 2zm6-2zm11-1zm-333 10zm28 2zm13-3zm4 3zm10-2zm1 3zm1 0zm0-7zm14 3zm16-1zm3 1zm6-3zm16 0zm16 6zm16 0zm1 1zm6-1zm1-2zm0 2zm2 0zm3-6zm8 4zm2 2zm2-4zm2-1zm2 0zm7 4zm0-5zm0 1zm7 2zm4 4zm0-1zm6-2zm0-4zm1 7zm3-6zm0 4zm4-4zm3 0zm4-1zm1 4zm2 1zm1 0zm1-4zm5 2zm8 3zm0-6zm1 5zm2-1zm0 3zm1-6zm1 0zm3 0zm2-1zm8 4zm0 2zm0-1zm11-2zm3 4zm9-2zm7-3zm2-2zm12 1zm-259 8zm12 2zm2 4zm0-6zm4 6zm1-7zm7 7zm1-5zm2 4zm31 1zm4-6zm4 1zm8-2zm2 3zm0-3zm21 6zm1-4zm1-1zm15 2zm2-2zm1-1zm0 3zm1 0zm2-1zm0 5zm1-2zm1-3zm9 3zm5-5zm2 2zm0 2zm0 1zm2-4zm1 6zm2-7zm10 5zm9-4zm14 0zm14 2zm1-2zm4 0zm7 1zm13 2zm3 2zm16-2zm2 0zm3 2zm16 0zm20-6zm4 6zm-249 3zm7 1zm7 1zm4 2zm31-2zm6 3zm8-6zm8 3zm11 4zm9-5zm3-2zm2 5zm7-3zm11 5zm21-6zm1 2zm60-3zm16 1zm47-1zm6 1zm-260 13zm70-3zm9 1zm28-3zm-121 12zm77-4zm17-1zm45 0z" stroke="#111" stroke-width="3.1" stroke-linecap="square" opacity="0.66" fill="none"/>
<rect x="118.3" y="386.5" width="29.5" height="12.3" fill="#fff"/>
<rect x="165" y="394" width="30.5" height="12.3" fill="#fff"/>
<rect x="119.5" y="446.5" width="29" height="12.5" fill="#fff"/>
<rect x="109" y="328.5" width="146.3" height="147.7" fill="none" stroke="#1a1a1a" stroke-width="1.15"/>
<path d="M105.2 343.5H109M105.2 381H109M105.2 422.6H109M105.2 451.6H109M107.2 369.7H109M107.2 363.1H109M107.2 358.4H109M107.2 354.8H109M107.2 351.8H109M107.2 349.3H109M107.2 347.1H109M107.2 345.2H109M107.2 410.1H109M107.2 402.8H109M107.2 397.6H109M107.2 393.5H109M107.2 390.2H109M107.2 387.4H109M107.2 385H109M107.2 382.9H109M107.2 437.6H109M107.2 433.8H109M107.2 431.1H109M107.2 429H109M107.2 427.3H109M107.2 425.9H109M107.2 424.7H109M107.2 423.6H109M107.2 447H109M107.2 455H109M107.2 458H109M107.2 461H109M107.2 464H109M107.2 468H109M123.8 476.2V480M140.3 476.2V480M175.4 476.2V480M209 476.2V480M242.3 476.2V480M150.9 476.2V478M157 476.2V478M161.4 476.2V478M164.8 476.2V478M167.6 476.2V478M170 476.2V478M172 476.2V478M173.8 476.2V478M185.5 476.2V478M191.4 476.2V478M195.6 476.2V478M198.9 476.2V478M201.5 476.2V478M203.8 476.2V478M205.7 476.2V478M207.5 476.2V478M219 476.2V478M224.9 476.2V478M229 476.2V478M232.3 476.2V478M234.9 476.2V478M237.1 476.2V478M239.1 476.2V478M240.8 476.2V478M113.5 476.2V478M116.5 476.2V478M120 476.2V478M127.5 476.2V478M130.5 476.2V478M133.5 476.2V478M137 476.2V478" stroke="#111" stroke-width="1.1" fill="none"/>
<text font-size="10" text-anchor="end" transform="translate(104.6 347.9) scale(1.08 1)" class="t">10<tspan dy="-3.3" font-size="6.8">5</tspan></text>
<text font-size="10" text-anchor="end" transform="translate(104.6 385.4) scale(1.08 1)" class="t">10<tspan dy="-3.3" font-size="6.8">4</tspan></text>
<text font-size="10" text-anchor="end" transform="translate(104.6 427) scale(1.08 1)" class="t">10<tspan dy="-3.3" font-size="6.8">3</tspan></text>
<text font-size="10" text-anchor="end" transform="translate(103.5 455.2) scale(1.08 1)" class="t">0</text>
<text font-size="10" text-anchor="middle" transform="translate(123.8 492.3) scale(1.08 1)" class="t">0</text>
<text font-size="10" text-anchor="middle" transform="translate(140.8 492.3) scale(1.08 1)" class="t">10<tspan dy="-3.3" font-size="6.8">2</tspan></text>
<text font-size="10" text-anchor="middle" transform="translate(176.6 492.3) scale(1.08 1)" class="t">10<tspan dy="-3.3" font-size="6.8">3</tspan></text>
<text font-size="10" text-anchor="middle" transform="translate(210 492.3) scale(1.08 1)" class="t">10<tspan dy="-3.3" font-size="6.8">4</tspan></text>
<text font-size="10" text-anchor="middle" transform="translate(243.2 492.3) scale(1.08 1)" class="t">10<tspan dy="-3.3" font-size="6.8">5</tspan></text>
<rect x="117.5" y="379.5" width="30.8" height="52" fill="none" stroke="#111" stroke-width="1"/>
<rect x="158" y="380" width="44.3" height="84" fill="none" stroke="#111" stroke-width="1.7"/>
<rect x="118.5" y="441" width="30.8" height="23" fill="none" stroke="#111" stroke-width="1.7"/>
<text font-size="13.8" text-anchor="middle" transform="translate(133.5 398) scale(1.1 1)" class="t">25.6</text>
<text font-size="13.8" text-anchor="middle" transform="translate(180 405.5) scale(1.1 1)" class="t">28.3</text>
<text font-size="13.8" text-anchor="middle" transform="translate(134.2 458) scale(1.1 1)" class="t">26.5</text>
<path d="M133.5 367V345.5H281" stroke="#111" stroke-width="1" fill="none"/>
<path d="M290 345.5L281 342.3L283.2 345.5L281 348.7Z" fill="#111"/>
<text font-size="17.5" transform="translate(77 505.7) rotate(-90) scale(1.035 1)">CCR6</text>
<path d="M83.7 473V507.8H118" stroke="#111" stroke-width="1.1" fill="none"/>
<path d="M83.7 465.8L80.7 474.3L83.7 472.1L86.7 474.3Z" fill="#111"/>
<path d="M126.3 507.8L117.8 504.8L120 507.8L117.8 510.8Z" fill="#111"/>
<text font-size="17.5" transform="translate(83.5 527.5) scale(1.075 1)">CXCR3</text>
<path transform="scale(0.2)" d="M2209 1828l6-1 7-1 8 0 8 1 7 0 5 1 8 2 4 1 6 1 6 3 6 3 5 2 5 2 4 3 4 3 4 3 6 4 3 3 4 3 4 4 3 5 3 4 3 5 2 6 1 5 1 8 0 7 0 7-1 8-1 5-2 6-3 7-2 4-3 5-2 4-3 4-4 5-3 4-4 4-4 3-4 4-4 3-4 3-6 4-4 3-4 2-5 2-6 3-6 2-5 2-4 2-6 1-7 3-5 1-8 1-4 1-8 0-8 1-7 0-7 0-8-1-5-1-7-1-6-1-6-3-6-1-5-2-5-3-5-2-5-3-5-2-5-3-5-4-3-2-4-3-6-3-4-2-6-2-7-2-7 0-8 0-8 1-7 0-7-1-8 0-8 0-7 0-7 0-8 0-8 1-4 1-6 3-4 4-3 3-4 5-3 4-3 4-3 5-4 4-3 5-3 3-4 5-3 4-4 3-3 4-6 4-4 2-3 3-5 3-5 2-6 2-7 3-4 1-6 2-7 1-7 1-8 0-8-1-5-1-7-3-5-2-5-3-4-3-4-2-4-4-4-3-4-5-2-3-4-5-4-5-2-5-3-5-2-5-2-5-1-5-2-7-1-6 0-7-1-7 0-8 1-8 1-4 1-8 1-5 2-7 3-6 2-4 2-6 3-4 3-5 3-4 3-4 4-5 3-2 4-5 5-3 3-2 5-4 5-2 5-3 5-2 6-2 6-2 6-1 7-2 5 0 8-1 7 1 5 1 8 1 4 2 6 2 4 2 6 3 4 3 6 2 4 3 6 2 4 2 8 2 5 0 8 0 5 0 7-1 7 0 8-1 8 0 7 0 7 1 8 0 5 1 7 1 8 1 5 1 7 1 8 1 8-1 4-2 6-4 4-3 3-2 5-4 5-4 4-2 3-3 6-3 4-3 6-3 4-2 6-3 4-2 6-2 7-2 5-2 5-1 7-2 6-1 7-1zM2201 1835l7-1 7-1 7 0 8 0 8 0 7 1 6 1 7 1 4 2 6 2 6 2 5 3 4 3 5 2 4 3 6 4 3 3 4 3 4 5 3 3 3 4 3 5 2 5 2 7 1 6 1 7-1 7-1 6-1 7-2 5-2 5-2 5-3 5-3 5-4 5-3 3-3 4-4 4-4 4-3 3-6 3-4 4-5 2-5 3-5 3-5 2-6 2-5 2-5 2-7 2-5 1-7 1-5 1-8 1-8 0-7 0-7 0-8-1-6-1-6-1-6-2-7-2-5-2-5-2-5-3-5-2-5-3-4-3-4-3-4-4-5-3-3-3-5-5-3-2-4-5-4-3-4-3-5-2-7-1-8 0-8 1-7 0-7 0-8 0-8-1-5-1-7-1-8-1-4-1-6 1-7 2-4 3-3 3-3 4-4 5-3 5-3 5-3 5-2 4-2 4-3 5-3 4-4 6-3 3-3 4-4 5-3 2-5 5-4 3-4 3-4 3-6 3-4 2-6 2-7 2-5 1-8 1-4 1-8 0-5-1-7-2-6-1-4-3-6-3-4-3-3-3-5-4-2-3-4-5-4-5-2-5-3-5-2-5-2-5-1-5-2-8 0-6-1-6 0-8 1-4 0-8 2-8 1-4 2-6 2-6 2-6 3-5 2-4 3-4 4-5 3-4 4-3 4-4 5-3 4-3 4-3 5-2 7-2 5-2 5-2 7-1 6-1 7 0 7 0 6 1 7 2 5 1 5 2 5 3 5 2 5 3 5 3 5 3 5 3 5 2 5 2 5 1 8 1 7-1 5-1 8-1 5 0 7-1 8 0 7 0 5 1 8 1 4 2 7 1 5 3 4 3 4 3 6 4 4 3 6 0 4-3 3-3 4-4 3-4 4-4 4-5 2-3 5-4 3-4 5-4 3-2 4-4 6-4 3-2 4-3 5-3 5-2 5-3 6-2 6-2 6-2 4-2 8-1 5-2 6-1zM2213 1838l7-1 8 0 7 0 5 1 8 1 5 1 7 2 5 2 5 2 5 3 5 2 5 4 4 3 4 2 5 4 3 4 4 3 3 4 3 5 3 5 2 5 1 8 1 4 0 8-1 5-1 7-1 6-3 5-2 5-2 5-3 5-4 4-3 5-4 3-4 4-4 4-4 2-4 4-6 3-4 3-5 2-5 3-6 2-4 2-6 2-6 1-6 2-5 1-7 1-8 1-7 0-5 1-5-1-8 0-7-1-6-1-7-2-5-1-5-2-6-2-5-3-4-3-5-2-5-4-5-4-3-2-4-5-3-3-5-4-2-4-3-4-3-5-2-5-2-8 1-7 1-5 2-7 3-5 2-6 3-4 2-5 3-4 3-4 4-5 3-3 5-5 3-2 5-4 4-3 4-3 4-2 5-3 5-3 5-2 7-2 6-3 4-1 6-2 7-1 5-1 8-2 5 0zM1886 1872l6-1 8 0 8 0 7 0 6 1 7 2 4 2 6 2 4 3 6 3 4 3 4 3 4 3 5 5 3 2 3 5 3 5 2 5 1 6 2 7-1 7-1 5-2 8-2 4-2 6-2 4-2 5-3 5-2 6-3 4-4 6-3 4-2 3-4 5-4 4-3 4-4 3-5 4-3 3-5 2-4 3-6 2-7 2-5 2-8 1-7 0-7-1-8-1-5-2-5-2-5-3-4-3-3-3-5-5-3-4-3-4-3-4-2-6-3-4-1-7-2-6-1-7 0-6-1-7 1-7 1-6 1-7 1-5 2-6 2-6 3-6 2-4 3-5 3-3 4-5 3-3 5-4 3-3 4-3 6-3 4-2 6-2 7-2zM2221 1840l7 0 4 0 8 1 8 1 4 1 6 2 6 3 6 2 4 3 5 2 3 3 6 3 4 4 3 3 5 4 3 3 3 5 3 5 2 5 2 5 1 7 0 8-1 8-1 4-2 7-3 6-2 5-3 4-2 4-4 4-3 5-4 3-4 4-5 4-3 2-5 3-4 3-6 3-4 2-6 2-4 2-7 3-6 1-5 2-8 1-4 1-8 1-8 0-7 0-7 0-8-1-5-1-7-2-6-1-4-2-6-2-5-3-5-2-4-3-6-4-4-3-3-3-4-5-3-3-4-4-3-5-2-5-2-5-1-8 0-7 2-7 1-6 2-4 2-6 2-4 3-6 3-4 4-5 3-3 4-5 3-3 5-3 5-4 4-3 4-2 5-3 4-2 6-3 6-2 6-2 5-2 5-1 8-2 4-1 8-1 8-1zM1892 1878l6-1 7 0 7 0 6 1 7 2 5 2 5 2 5 2 5 4 4 2 3 4 5 4 3 4 2 4 3 5 3 7 1 5 0 7 0 8-1 8-2 4-2 5-2 5-2 6-2 5-3 4-3 5-4 6-3 4-3 3-4 5-3 3-4 5-3 2-6 4-4 3-6 2-4 2-6 1-7 2-7 0-8 0-8-1-4-2-6-2-4-3-5-4-3-3-4-4-4-4-2-4-3-5-2-5-3-7-1-5-1-7 0-6 0-7 0-5 1-8 2-7 1-5 1-5 3-5 2-5 3-5 3-5 4-5 3-2 5-5 4-3 3-2 5-3 5-3 6-2 7-2zM2210 1845l5-1 7 0 8 0 8 1 4 0 8 2 5 2 5 1 5 3 5 2 5 3 5 4 4 3 4 3 4 4 4 3 4 5 2 4 3 5 2 6 1 5 1 8-1 7-1 5-2 8-2 4-2 6-3 4-3 5-3 3-4 5-3 3-5 4-4 3-4 3-4 3-6 3-4 2-6 3-4 2-6 1-7 3-5 1-7 2-5 1-8 0-8 1-7 0-7-1-8-1-5-1-7-1-6-2-4-2-6-2-4-3-6-3-4-3-4-3-4-4-4-4-4-4-2-4-3-4-2-6-2-7 0-7 1-8 1-5 2-7 2-6 3-4 2-6 4-4 2-3 4-5 4-3 4-4 4-3 4-3 5-3 5-3 5-3 5-2 5-2 5-2 7-2 5-1 6-2 7-1zM1900 1885l6 0 7 1 7 1 5 1 5 2 5 3 5 3 5 4 2 3 4 5 3 4 3 6 1 4 2 8 0 5 0 5-1 8-2 4-2 8-2 5-3 5-2 4-3 4-3 4-4 6-3 4-3 3-4 5-3 3-5 4-5 3-5 2-5 3-5 1-7 1-8 0-7-1-6-1-6-3-4-2-4-3-5-5-3-3-3-4-3-5-3-5-2-5-1-8-1-4 0-8 0-8 1-5 1-7 1-5 2-7 3-6 2-4 3-5 3-3 4-5 3-3 5-4 4-3 4-3 5-2 7-2 5-2 8-1zM2216 1848l6-1 8 0 5 1 7 1 6 1 7 2 5 3 5 2 5 3 4 2 4 3 4 4 5 3 3 3 5 5 3 4 2 4 2 7 2 5 0 8 0 7-2 7-1 6-2 4-3 6-3 4-3 5-3 3-4 5-3 3-5 4-5 3-4 3-4 2-5 2-5 3-6 3-6 2-5 1-5 1-8 2-5 1-7 1-8 0-7 0-7 0-6-1-7-1-5-2-7-2-5-2-6-2-4-3-5-3-3-3-5-4-3-3-4-5-3-4-3-4-2-6-1-6-1-7 1-8 1-6 2-6 2-6 2-4 3-6 3-4 3-3 5-5 3-2 5-4 4-4 4-2 4-3 5-3 5-2 6-2 7-3 5-2 4-1 8-2 5-1 7-1zM1895 1892l7 0 8 0 5 1 7 2 6 2 4 3 5 2 3 4 4 4 3 5 3 5 1 5 1 5 1 8-1 5-1 7-2 5-2 5-2 5-3 5-3 5-4 5-3 4-2 4-4 4-4 5-3 3-4 3-5 3-5 2-5 2-8 1-7 0-7-1-6-1-4-3-6-3-4-3-3-4-3-4-3-4-3-6-1-4-2-8-1-5 0-7 1-5 1-8 1-5 2-8 3-4 2-6 3-4 3-3 4-5 3-3 5-4 5-3 4-2 6-3 5-1 5-2zM2220 1850l8 0 4 0 8 1 5 2 7 2 6 2 4 2 6 3 4 3 3 3 5 3 5 4 3 3 4 4 3 5 3 5 1 6 1 4 1 8-1 7-1 5-2 6-2 5-3 5-3 4-4 6-3 2-4 5-3 3-5 3-5 4-5 3-5 2-5 2-5 3-5 1-5 2-7 2-6 1-7 1-5 1-8 0-7 0-7-1-6 0-7-2-5-1-5-2-6-2-5-3-4-2-5-3-5-5-2-2-5-5-3-4-2-4-3-5-2-7-1-5 0-6 1-6 2-7 2-6 2-5 3-5 3-4 3-3 4-6 3-2 5-4 4-4 4-2 4-3 6-3 4-2 6-2 7-2 5-2 5-2 7-2 6-1 7-1 5 0zM1892 1900l6-1 7-1 7 1 6 1 6 2 5 3 3 3 5 4 3 4 2 4 3 7 1 5 0 8-1 7-2 5-2 6-2 4-3 6-3 4-3 5-2 4-4 4-3 5-3 4-5 4-3 2-5 3-7 2-6 1-7 0-6-1-7-2-4-3-4-2-4-4-4-4-3-5-2-5-2-5-1-7-1-6 1-4 0-8 2-7 2-5 2-6 3-4 3-5 2-3 5-5 3-3 5-4 5-3 5-3 5-1zM2203 1855l7-1 8-1 7 0 7 0 8 1 5 1 6 3 6 2 5 2 4 3 4 3 5 3 5 4 3 3 5 4 2 3 3 5 2 5 2 7 0 8 0 8-2 6-2 6-3 5-2 4-3 4-4 5-3 3-5 4-3 3-5 3-5 3-5 3-5 2-5 3-5 1-5 2-7 2-6 1-7 1-6 1-7 0-7 0-5 0-8-1-5-1-7-2-5-2-5-2-5-3-5-3-5-4-3-2-4-5-3-4-3-3-2-6-2-5-2-7 0-8 1-7 2-5 2-5 2-5 3-5 4-5 2-3 5-5 3-2 5-4 4-4 4-2 5-2 5-3 6-3 6-2 5-1 5-2 7-2zM1902 1905l3 0 7 1 6 2 6 2 3 3 5 4 3 4 3 5 1 6 0 8-1 8-1 4-3 6-2 4-3 6-3 4-4 5-2 4-2 4-5 5-3 3-5 4-5 2-5 1-7 1-7-1-6-2-5-2-5-4-3-2-3-5-3-5-2-5-1-7-1-6 1-4 1-8 1-5 3-6 2-4 3-5 4-5 3-3 4-4 4-3 4-4 6-2 4-2 8-2zM2221 1855l5 0 7 0 7 2 5 1 5 2 6 2 4 3 5 3 5 3 5 4 3 3 4 3 4 4 3 5 3 5 1 5 1 8 0 7-2 7-1 6-3 4-3 6-3 4-2 3-5 5-3 2-4 4-6 4-4 2-5 3-5 3-6 2-4 1-6 2-7 2-5 1-7 1-6 1-7 0-5-1-7 0-8-2-5-1-5-2-6-2-5-2-5-3-4-3-5-4-3-3-4-5-3-5-3-5-1-5-1-5 0-8 0-4 2-8 2-5 2-5 4-5 2-4 4-3 4-5 4-3 4-3 4-3 6-3 4-3 6-2 4-2 6-2 6-2 6-2 5-1 7-1 8-1zM1898 1912l7 0 5 1 7 2 5 3 3 2 4 5 2 5 1 8-1 7-1 5-2 5-3 5-3 5-2 5-3 5-3 5-4 5-2 3-6 4-4 2-6 1-7 0-5 0-5-3-5-2-5-5-3-3-2-5-2-7-1-5 1-5 1-8 2-4 2-6 3-4 4-6 2-3 5-4 3-3 5-4 5-3 5-2zM2218 1858l7-1 5 1 8 1 4 1 7 2 6 3 4 3 4 2 4 3 5 3 5 4 3 3 4 5 3 4 3 6 1 4 0 8 0 8-2 4-2 6-2 5-3 5-4 4-3 4-4 4-3 3-6 4-4 3-5 2-5 3-6 2-4 2-6 1-7 2-5 1-8 1-7 1-5 0-5 0-7-1-7-2-6-1-5-2-5-2-5-2-5-3-5-4-3-3-5-5-2-3-3-5-2-5-2-7 0-8 1-7 1-5 3-6 2-5 3-4 4-5 3-3 5-4 3-3 4-3 6-3 4-3 6-2 4-2 6-2 7-3 5-1 5-1 7-2 6 0zM1894 1922l6-1 8 0 5 1 5 4 2 4 2 7 0 5-1 6-2 4-2 6-2 5-3 5-2 5-2 5-4 4-4 4-5 3-8 1-7-1-5-3-5-3-2-3-3-5-2-7 0-8 2-6 3-6 2-4 3-4 5-4 3-4 4-4 4-3 5-3zM2216 1860l6 0 7 0 6 1 7 1 6 3 4 2 6 3 4 2 4 3 4 3 5 4 3 3 4 5 3 4 2 6 1 5 0 7 0 6-3 7-2 5-3 5-2 4-3 4-5 4-3 3-5 4-4 3-6 3-4 2-6 2-4 2-6 2-7 2-5 1-8 1-7 0-5 1-5-1-7-1-6-1-7-2-5-2-5-2-5-3-5-3-3-3-4-4-3-3-4-6-2-4-2-6-1-7 0-7 2-7 2-6 2-5 3-3 3-5 4-4 4-3 4-3 5-4 5-3 5-2 5-2 5-3 5-1 5-2 7-2 6-2 7-1zM1896 1938l6-1 4 3 0 8-1 7 0 5-2 8-2 4-3 6-3 2-7 2-3 0-7-2-3-2-4-6-1-7 2-7 3-5 3-3 4-4 5-4 4-2 5-2zM2215 1862l7 0 8 0 5 1 6 2 7 2 4 3 5 2 4 3 4 3 5 3 5 4 3 3 3 4 2 6 2 5 1 7-1 6-2 6-2 6-2 4-4 6-3 3-3 4-4 3-5 4-4 3-4 3-5 2-6 2-6 2-5 2-6 2-6 1-8 1-5 0-5 0-7-1-8-1-5-1-5-2-6-3-5-2-4-3-5-3-4-4-3-4-3-4-3-4-2-6-1-7 0-7 1-6 2-6 3-5 3-3 4-6 3-2 5-5 4-3 4-2 4-3 6-2 4-3 6-2 7-2 5-2 5-2 7-1zM2215 1865l5-1 8 1 4 0 8 2 5 2 5 3 5 2 5 3 4 3 4 2 4 5 4 3 3 5 2 5 1 5 1 7-1 6-2 5-2 6-3 4-3 5-4 4-3 3-5 4-5 3-4 3-5 3-6 2-5 2-5 1-6 2-6 1-8 1-8 0-7 0-7-1-6-2-5-2-6-2-5-2-4-3-4-3-5-4-3-4-3-4-3-5-2-5-1-8 1-7 2-5 2-5 3-5 3-4 4-4 4-3 5-4 4-3 4-2 5-2 5-3 6-3 6-2 5-1 5-2 7-2zM2215 1868l5-1 8 0 4 1 8 2 5 2 5 3 5 2 4 3 4 2 5 4 4 4 3 4 3 4 1 7 1 7-2 8-2 5-2 5-4 5-2 3-4 4-4 4-5 4-5 2-4 3-6 2-5 2-5 2-7 1-5 2-8 1-8 0-7-1-7-1-6-2-4-2-6-2-4-2-6-4-4-3-3-3-4-5-3-5-2-5-1-5 0-7 1-6 2-4 3-6 4-4 3-3 4-5 4-2 4-3 5-3 5-2 5-3 5-2 7-3 5-1 6-2 7-1zM2216 1870l6 0 6 0 7 1 5 2 5 2 5 3 5 2 5 4 5 3 3 3 4 5 3 5 1 5 1 7-2 8-2 5-3 5-2 4-3 4-5 4-3 3-5 3-4 3-6 2-4 3-6 2-7 1-5 2-8 1-7 0-7 0-8-2-5-1-5-2-5-2-5-3-5-3-5-4-3-3-4-4-3-5-2-5-1-6 1-4 2-8 2-5 3-4 4-3 3-4 6-4 4-2 4-3 5-3 5-2 6-2 6-3 4-2 6-1 7-2zM2222 1872l3 1 7 1 5 1 6 3 5 2 5 2 5 3 4 4 4 3 4 5 2 5 1 6 0 7-2 5-2 5-3 5-3 5-3 3-5 4-3 3-4 3-6 2-4 3-8 2-5 2-5 1-8 1-7 0-7 0-6-1-7-3-5-2-5-2-5-3-5-3-3-3-4-4-3-3-3-5-1-8 0-7 2-5 3-5 4-5 3-2 5-4 4-3 6-3 4-2 6-3 4-2 6-2 4-2 6-2 7-2 7-1zM2211 1878l7-2 7 0 7 1 6 2 4 2 6 2 4 3 6 3 4 3 3 4 3 4 2 8-1 7-1 5-3 6-3 4-4 5-3 3-5 4-4 3-5 3-6 2-5 2-5 1-7 2-6 1-7 0-7-1-6-1-5-2-6-2-5-2-5-3-3-3-6-4-3-3-3-5-2-5 0-7 2-6 2-4 4-6 3-2 5-4 5-3 5-2 5-2 5-3 5-2 5-2 5-3 6-1zM2216 1880l6-1 8 1 5 1 5 2 5 2 5 3 5 3 4 4 3 4 3 5 1 6-1 5-3 7-2 4-3 4-4 5-3 3-5 3-5 3-5 2-5 2-6 2-6 2-7 0-6 1-5-1-8-2-4-1-6-3-4-2-6-3-4-3-3-3-4-5-3-5 0-7 2-6 3-5 5-4 4-3 4-2 5-3 6-3 5-2 5-2 5-3 6-2 4-2zM2214 1885l6-1 8 0 5 1 7 2 5 3 5 2 3 3 5 4 2 5 1 6-1 6-2 6-3 4-4 4-3 4-6 3-4 3-5 2-5 3-6 1-4 2-8 0-8 0-4-1-8-2-5-2-5-3-5-2-4-3-3-3-3-4-2-8 2-8 3-3 4-4 4-3 6-2 5-2 5-3 6-2 4-3 5-2 5-2zM2217 1890l5-1 8 0 5 1 5 2 5 3 5 4 3 3 2 6 0 5-3 6-2 4-4 5-4 2-4 4-6 3-4 2-6 2-5 1-7 1-8 0-4-1-7-2-6-2-4-3-4-3-5-3-2-4-1-7 3-6 3-2 5-3 5-2 6-3 6-2 4-2 5-3 4-3 7-2zM2217 1898l5-2 8 0 6 2 5 2 4 4 2 6-2 6-3 4-4 4-5 4-5 2-5 2-5 3-6 1-7 1-7-2-6-2-4-2-5-3-3-5 0-4 3-4 5-3 4-2 6-2 5-3 5-3 4-2z" stroke="#111" stroke-width="4.4" fill="none" stroke-linejoin="round"/>
<path transform="scale(0.25)" d="M1580 1586zm86 11zm-93 3zm3 7zm53-2zm196 1zm-108 7zm-102 9zm191 1zm-56 8zm-269 5zm337 18zm29-1zm-274 9zm216 9zm-97 3zm86 1zm-112 50zm-110 5zm303-1zm-227 22zm-7 6zm31 20zm119 15z" stroke="#777" stroke-width="3.6" stroke-linecap="square" opacity="0.6" fill="none"/>
<rect x="355.2" y="328.6" width="146.5" height="146.4" fill="none" stroke="#1a1a1a" stroke-width="1.15"/>
<path d="M351.4 341.5H355.2M351.4 374.8H355.2M351.4 408H355.2M351.4 443.6H355.2M351.4 459.5H355.2M353.4 364.8H355.2M353.4 358.9H355.2M353.4 354.8H355.2M353.4 351.5H355.2M353.4 348.9H355.2M353.4 346.7H355.2M353.4 344.7H355.2M353.4 343H355.2M353.4 398H355.2M353.4 392.2H355.2M353.4 388H355.2M353.4 384.8H355.2M353.4 382.2H355.2M353.4 379.9H355.2M353.4 378H355.2M353.4 376.3H355.2M353.4 432.9H355.2M353.4 426.6H355.2M353.4 422.2H355.2M353.4 418.7H355.2M353.4 415.9H355.2M353.4 413.5H355.2M353.4 411.4H355.2M353.4 409.6H355.2M353.4 463H355.2M353.4 467H355.2M353.4 471H355.2M371 475V478.8M386.4 475V478.8M422.5 475V478.8M455.6 475V478.8M488 475V478.8M397.3 475V476.8M403.6 475V476.8M408.1 475V476.8M411.6 475V476.8M414.5 475V476.8M416.9 475V476.8M419 475V476.8M420.8 475V476.8M432.5 475V476.8M438.3 475V476.8M442.4 475V476.8M445.6 475V476.8M448.3 475V476.8M450.5 475V476.8M452.4 475V476.8M454.1 475V476.8M465.4 475V476.8M471.1 475V476.8M475.1 475V476.8M478.2 475V476.8M480.8 475V476.8M483 475V476.8M484.9 475V476.8M486.5 475V476.8M359 475V476.8M362 475V476.8M365 475V476.8M368 475V476.8M375 475V476.8M379 475V476.8M383 475V476.8" stroke="#111" stroke-width="1.1" fill="none"/>
<text font-size="10" text-anchor="end" transform="translate(350.8 345.9) scale(1.08 1)" class="t">10<tspan dy="-3.3" font-size="6.8">5</tspan></text>
<text font-size="10" text-anchor="end" transform="translate(350.8 379.2) scale(1.08 1)" class="t">10<tspan dy="-3.3" font-size="6.8">4</tspan></text>
<text font-size="10" text-anchor="end" transform="translate(350.8 412.4) scale(1.08 1)" class="t">10<tspan dy="-3.3" font-size="6.8">3</tspan></text>
<text font-size="10" text-anchor="end" transform="translate(350.8 448) scale(1.08 1)" class="t">10<tspan dy="-3.3" font-size="6.8">2</tspan></text>
<text font-size="10" text-anchor="end" transform="translate(349.7 463.1) scale(1.08 1)" class="t">0</text>
<text font-size="10" text-anchor="middle" transform="translate(374.2 492.2) scale(1.08 1)" class="t">0</text>
<text font-size="10" text-anchor="middle" transform="translate(387 492.2) scale(1.08 1)" class="t">10<tspan dy="-3.3" font-size="6.8">2</tspan></text>
<text font-size="10" text-anchor="middle" transform="translate(422.8 492.2) scale(1.08 1)" class="t">10<tspan dy="-3.3" font-size="6.8">3</tspan></text>
<text font-size="10" text-anchor="middle" transform="translate(456 492.2) scale(1.08 1)" class="t">10<tspan dy="-3.3" font-size="6.8">4</tspan></text>
<text font-size="10" text-anchor="middle" transform="translate(488.8 492.2) scale(1.08 1)" class="t">10<tspan dy="-3.3" font-size="6.8">5</tspan></text>
<rect x="360.5" y="362.5" width="36.5" height="56" fill="none" stroke="#111" stroke-width="1.7"/>
<rect x="417" y="362.5" width="52.5" height="56" fill="none" stroke="#111" stroke-width="1.7"/>
<text font-size="13.8" text-anchor="middle" transform="translate(378.5 352.3) scale(1.1 1)" class="t">28</text>
<text font-size="13.8" text-anchor="middle" transform="translate(442.3 352.3) scale(1.1 1)" class="t">65.1</text>
<text font-size="17.5" transform="translate(320.7 506) rotate(-90) scale(1.035 1)">CCR4</text>
<path d="M326.8 474V507.8H361" stroke="#111" stroke-width="1.1" fill="none"/>
<path d="M326.8 466.8L323.8 475.3L326.8 473.1L329.8 475.3Z" fill="#111"/>
<path d="M369.3 507.8L360.8 504.8L363 507.8L360.8 510.8Z" fill="#111"/>
<text font-size="17.5" transform="translate(326.3 527.2) scale(1.08 1)">CCR10</text>
<text x="149.2" y="573" font-size="22" text-anchor="middle">Th</text>
<text x="417.3" y="573" font-size="21.6" text-anchor="middle">Treg</text>
<path d="M82.3 583.8V821.7M81.5 821.7H271.3M76.5 584.5H82.3M76.5 632.1H82.3M76.5 679.7H82.3M76.5 727.2H82.3M76.5 774.6H82.3M76.5 821.7H82.3M100.8 821.7V828.2M138.7 821.7V828.2M176.2 821.7V828.2M214.3 821.7V828.2M252.3 821.7V828.2" stroke="#111" stroke-width="1.5" fill="none"/>
<text x="73" y="590.8" font-size="18" text-anchor="end">100</text>
<text x="73" y="638.4" font-size="18" text-anchor="end">80</text>
<text x="73" y="686" font-size="18" text-anchor="end">60</text>
<text x="73" y="733.5" font-size="18" text-anchor="end">40</text>
<text x="73" y="780.9" font-size="18" text-anchor="end">20</text>
<text x="73" y="828" font-size="18" text-anchor="end">0</text>
<text x="121.6" y="840.2" font-size="18.5" text-anchor="end" transform="rotate(-45 121.6 840.2)">Naive</text>
<text x="154" y="840.5" font-size="18.5" text-anchor="end" transform="rotate(-45 154 840.5)">Th17</text>
<text x="191.6" y="840.5" font-size="18.5" text-anchor="end" transform="rotate(-45 191.6 840.5)">Th22</text>
<text x="226.4" y="839.5" font-size="18.5" text-anchor="end" transform="rotate(-45 226.4 839.5)">Th2</text>
<text x="262.9" y="839.8" font-size="18.5" text-anchor="end" transform="rotate(-45 262.9 839.8)">Th1</text>
<text x="18.2" y="706.5" font-size="19.2" text-anchor="middle" transform="rotate(-90 18.2 706.5)">CLA+ cells (%)</text>
<path d="M93.5 816.4L98.1 821.2L93.5 826L88.9 821.2Z"/>
<path d="M97.3 816.4L101.9 821.2L97.3 826L92.7 821.2Z"/>
<path d="M100.8 816.4L105.4 821.2L100.8 826L96.2 821.2Z"/>
<path d="M104.4 816.4L109 821.2L104.4 826L99.8 821.2Z"/>
<path d="M108.3 816.4L112.9 821.2L108.3 826L103.7 821.2Z"/>
<circle cx="138.7" cy="718.3" r="4.7"/>
<circle cx="131.5" cy="737.9" r="4.7"/>
<circle cx="138.7" cy="747.1" r="4.7"/>
<circle cx="146" cy="751.5" r="4.7"/>
<circle cx="138.7" cy="762.9" r="4.7"/>
<path d="M126.2 743.7H151.5" stroke="#111" stroke-width="1.3"/>
<path d="M169 588.6L173.8 597.9H164.2Z"/>
<path d="M176.3 589.6L181.2 598.9H171.5Z"/>
<path d="M183.5 587.4L188.3 596.6H178.7Z"/>
<path d="M183.5 596.9L188.3 606.1H178.7Z"/>
<path d="M176.3 606L181.2 615.2H171.5Z"/>
<path d="M173 597H188" stroke="#111" stroke-width="1.3"/>
<rect x="209.9" y="721.3" width="9.4" height="9.4"/>
<rect x="213.2" y="741.1" width="9.4" height="9.4"/>
<rect x="202.3" y="751.3" width="9.4" height="9.4"/>
<rect x="209.9" y="752.6" width="9.4" height="9.4"/>
<rect x="216.6" y="752.6" width="9.4" height="9.4"/>
<path d="M201.5 749H227" stroke="#111" stroke-width="1.3"/>
<path d="M252.5 749.8L257.4 740.6H247.7Z"/>
<path d="M256 768.2L260.9 759H251.2Z"/>
<path d="M245.4 771.2L250.2 762H240.6Z"/>
<path d="M252 778.4L256.9 769.2H247.2Z"/>
<path d="M258.8 778L263.7 768.8H254Z"/>
<path d="M239.6 764.4H264.6" stroke="#111" stroke-width="1.3"/>
<path d="M325 584.5V821.7M324.2 821.7H514M319.2 584.5H325M319.2 632.1H325M319.2 679.7H325M319.2 727.2H325M319.2 774.6H325M319.2 821.7H325M343.8 821.7V828.2M382 821.7V828.2M419.6 821.7V828.2M457.6 821.7V828.2M495.3 821.7V828.2" stroke="#111" stroke-width="1.5" fill="none"/>
<text x="357" y="840.9" font-size="18.5" text-anchor="end" transform="rotate(-45 357 840.9)">Naive</text>
<text x="395.9" y="840.7" font-size="18.5" text-anchor="end" transform="rotate(-45 395.9 840.7)">Th17-like</text>
<text x="432.4" y="840.9" font-size="18.5" text-anchor="end" transform="rotate(-45 432.4 840.9)">Th22-like</text>
<text x="473.1" y="840.6" font-size="18.5" text-anchor="end" transform="rotate(-45 473.1 840.6)">Th2-like</text>
<text x="510" y="840.6" font-size="18.5" text-anchor="end" transform="rotate(-45 510 840.6)">Th1-like</text>
<path d="M340.7 803.8L345.3 808.6L340.7 813.4L336.1 808.6Z"/>
<path d="M336.4 814.6L341 819.4L336.4 824.2L331.8 819.4Z"/>
<path d="M341.7 814.6L346.3 819.4L341.7 824.2L337.1 819.4Z"/>
<path d="M346.4 814.6L351 819.4L346.4 824.2L341.8 819.4Z"/>
<path d="M351.3 814.6L355.9 819.4L351.3 824.2L346.7 819.4Z"/>
<path d="M332 817.7H356.5" stroke="#111" stroke-width="1.3"/>
<circle cx="382" cy="663.3" r="4.7"/>
<circle cx="382" cy="688.7" r="4.7"/>
<circle cx="374.5" cy="698.2" r="4.7"/>
<circle cx="381.5" cy="712" r="4.7"/>
<circle cx="389.3" cy="711.3" r="4.7"/>
<path d="M369.2 694.6H394.6" stroke="#111" stroke-width="1.3"/>
<path d="M412.3 588.6L417.2 597.9H407.4Z"/>
<path d="M416 587.4L420.9 596.6H411.1Z"/>
<path d="M422.9 587.4L427.8 596.6H418Z"/>
<path d="M426.5 590.4L431.4 599.6H421.6Z"/>
<path d="M419.7 591.6L424.6 600.9H414.8Z"/>
<path d="M407 593.6H432" stroke="#111" stroke-width="1.3"/>
<rect x="452.9" y="649.7" width="9.4" height="9.4"/>
<rect x="452.9" y="680.1" width="9.4" height="9.4"/>
<rect x="459.9" y="679.3" width="9.4" height="9.4"/>
<rect x="452.9" y="701.5" width="9.4" height="9.4"/>
<rect x="452.9" y="719.9" width="9.4" height="9.4"/>
<path d="M445 690.8H470.3" stroke="#111" stroke-width="1.3"/>
<path d="M502.4 667.1L507.2 657.9H497.5Z"/>
<path d="M495.3 680.2L500.2 671H490.4Z"/>
<path d="M488.3 688.8L493.2 679.6H483.4Z"/>
<path d="M495.3 702.7L500.2 693.5H490.4Z"/>
<path d="M495.3 721L500.2 711.8H490.4Z"/>
<path d="M483 687H507.7" stroke="#111" stroke-width="1.3"/>
<text x="211.5" y="940.4" font-size="21.6" text-anchor="middle">Th</text>
<text x="425.3" y="940.4" font-size="22" text-anchor="middle">Treg</text>
<path d="M135.3 951.2V1189.3M134.6 1189.3H287.5M129.5 952H135.3M129.5 1011.4H135.3M129.5 1070.8H135.3M129.5 1130.1H135.3M129.5 1189.3H135.3M154.5 1189.3V1195.8M192.2 1189.3V1195.8M230 1189.3V1195.8M267.8 1189.3V1195.8" stroke="#111" stroke-width="1.5" fill="none"/>
<text x="127.3" y="958.3" font-size="18" text-anchor="end">80</text>
<text x="127.3" y="1017.7" font-size="18" text-anchor="end">60</text>
<text x="127.3" y="1077.1" font-size="18" text-anchor="end">40</text>
<text x="127.3" y="1136.4" font-size="18" text-anchor="end">20</text>
<text x="127.3" y="1195.6" font-size="18" text-anchor="end">0</text>
<text x="170.3" y="1207.4" font-size="18.5" text-anchor="end" transform="rotate(-45 170.3 1207.4)">Th17</text>
<text x="207.4" y="1208.2" font-size="18.5" text-anchor="end" transform="rotate(-45 207.4 1208.2)">Th22</text>
<text x="242.6" y="1207.5" font-size="18.5" text-anchor="end" transform="rotate(-45 242.6 1207.5)">Th2</text>
<text x="279.8" y="1207.3" font-size="18.5" text-anchor="end" transform="rotate(-45 279.8 1207.3)">Th1</text>
<text x="52.8" y="1076.5" font-size="18.5" text-anchor="middle" transform="rotate(-90 52.8 1076.5)">% among</text>
<text x="75.2" y="1073.5" font-size="18.65" text-anchor="middle" transform="rotate(-90 75.2 1073.5)">total memory cells</text>
<circle cx="147.5" cy="1138.1" r="4.7"/>
<circle cx="161.7" cy="1141" r="4.7"/>
<circle cx="154.4" cy="1147" r="4.7"/>
<circle cx="151.5" cy="1152" r="4.7"/>
<circle cx="151" cy="1155" r="4.7"/>
<circle cx="161.7" cy="1156.6" r="4.7"/>
<circle cx="146.6" cy="1161" r="4.7"/>
<circle cx="152.7" cy="1162.7" r="4.7"/>
<circle cx="157" cy="1159" r="4.7"/>
<circle cx="154.4" cy="1167" r="4.7"/>
<circle cx="147" cy="1172.2" r="4.7"/>
<circle cx="161.9" cy="1174" r="4.7"/>
<circle cx="154.4" cy="1178.3" r="4.7"/>
<circle cx="157" cy="1171.3" r="4.7"/>
<path d="M142 1160.6H167" stroke="#111" stroke-width="1.3"/>
<path d="M185.6 1183.8L190.4 1193.2H180.8Z"/>
<path d="M188.5 1182.9L193.3 1192.2H183.7Z"/>
<path d="M192.2 1177.3L197 1186.7H187.3Z"/>
<path d="M192.2 1183.8L197 1193.2H187.3Z"/>
<path d="M196 1182.9L200.8 1192.2H191.2Z"/>
<path d="M198.9 1183.8L203.8 1193.2H194.1Z"/>
<path d="M189.5 1180.9L194.3 1190.2H184.7Z"/>
<path d="M195 1180.9L199.8 1190.2H190.2Z"/>
<path d="M187.3 1182.1L192.2 1191.5H182.5Z"/>
<path d="M197.2 1182.1L202 1191.5H192.3Z"/>
<path d="M180 1184.8H205" stroke="#111" stroke-width="1.3"/>
<rect x="218.3" y="1019.4" width="9.4" height="9.4"/>
<rect x="225.6" y="1022" width="9.4" height="9.4"/>
<rect x="232.5" y="1068.8" width="9.4" height="9.4"/>
<rect x="226.5" y="1070.1" width="9.4" height="9.4"/>
<rect x="221.8" y="1071.9" width="9.4" height="9.4"/>
<rect x="218.3" y="1082.6" width="9.4" height="9.4"/>
<rect x="232.5" y="1081.7" width="9.4" height="9.4"/>
<rect x="225.6" y="1086.1" width="9.4" height="9.4"/>
<rect x="218.3" y="1093.9" width="9.4" height="9.4"/>
<rect x="232.5" y="1095.9" width="9.4" height="9.4"/>
<rect x="226.5" y="1106" width="9.4" height="9.4"/>
<rect x="221.8" y="1112" width="9.4" height="9.4"/>
<rect x="229" y="1109.4" width="9.4" height="9.4"/>
<rect x="218.3" y="1116.3" width="9.4" height="9.4"/>
<rect x="232.5" y="1116.3" width="9.4" height="9.4"/>
<rect x="225.6" y="1119.8" width="9.4" height="9.4"/>
<rect x="225.6" y="1148.9" width="9.4" height="9.4"/>
<path d="M217.3 1093.9H242.4" stroke="#111" stroke-width="1.3"/>
<path d="M267.8 997.6L272.7 988.4H262.9Z"/>
<path d="M267.8 1013.2L272.7 1004H262.9Z"/>
<path d="M264 1015.8L268.9 1006.6H259.1Z"/>
<path d="M271.8 1017.5L276.7 1008.3H266.9Z"/>
<path d="M260.6 1020.1L265.5 1010.9H255.8Z"/>
<path d="M275.3 1024.4L280.2 1015.2H270.4Z"/>
<path d="M267.8 1029.9L272.7 1020.7H262.9Z"/>
<path d="M260.6 1042.6L265.5 1033.4H255.8Z"/>
<path d="M275.3 1042.6L280.2 1033.4H270.4Z"/>
<path d="M267.8 1049.5L272.7 1040.3H262.9Z"/>
<path d="M264 1053.5L268.9 1044.3H259.1Z"/>
<path d="M271.8 1059.9L276.7 1050.7H266.9Z"/>
<path d="M260.6 1063.3L265.5 1054.1H255.8Z"/>
<path d="M267.8 1065.9L272.7 1056.7H262.9Z"/>
<path d="M275.3 1063.3L280.2 1054.1H270.4Z"/>
<path d="M267.8 1097.1L272.7 1087.9H262.9Z"/>
<path d="M267.8 1111.8L272.7 1102.6H262.9Z"/>
<path d="M255.4 1040.9H280.5" stroke="#111" stroke-width="1.3"/>
<path d="M351.2 951.8V1189.3M350.4 1189.3H502.7M345.4 952H351.2M345.4 1011.4H351.2M345.4 1070.8H351.2M345.4 1130.1H351.2M345.4 1189.3H351.2M370 1189.3V1195.8M407.9 1189.3V1195.8M446 1189.3V1195.8M483.8 1189.3V1195.8" stroke="#111" stroke-width="1.5" fill="none"/>
<text x="384.1" y="1208.3" font-size="18.5" text-anchor="end" transform="rotate(-45 384.1 1208.3)">Th17-like</text>
<text x="420.1" y="1208.3" font-size="18.5" text-anchor="end" transform="rotate(-45 420.1 1208.3)">Th22-like</text>
<text x="459.7" y="1208.3" font-size="18.5" text-anchor="end" transform="rotate(-45 459.7 1208.3)">Th2-like</text>
<text x="496.4" y="1208.3" font-size="18.5" text-anchor="end" transform="rotate(-45 496.4 1208.3)">Th1-like</text>
<circle cx="373.8" cy="1107.7" r="4.7"/>
<circle cx="362.7" cy="1115" r="4.7"/>
<circle cx="367.9" cy="1114.4" r="4.7"/>
<circle cx="377.5" cy="1114" r="4.7"/>
<circle cx="373.3" cy="1120.2" r="4.7"/>
<circle cx="362.7" cy="1128.5" r="4.7"/>
<circle cx="370" cy="1131.7" r="4.7"/>
<circle cx="377.5" cy="1130.4" r="4.7"/>
<circle cx="366.5" cy="1141.3" r="4.7"/>
<circle cx="377.5" cy="1141.3" r="4.7"/>
<circle cx="371.3" cy="1139.4" r="4.7"/>
<circle cx="362.7" cy="1145.2" r="4.7"/>
<circle cx="370" cy="1147.1" r="4.7"/>
<circle cx="362.7" cy="1154.4" r="4.7"/>
<circle cx="377.5" cy="1154.4" r="4.7"/>
<circle cx="370" cy="1165.8" r="4.7"/>
<path d="M357.5 1134H382.9" stroke="#111" stroke-width="1.3"/>
<path d="M400.8 1100.5L405.7 1109.9H395.9Z"/>
<path d="M407.9 1112.3L412.8 1121.7H403Z"/>
<path d="M407.9 1121.3L412.8 1130.7H403Z"/>
<path d="M400.8 1129L405.7 1138.4H395.9Z"/>
<path d="M405 1128L409.9 1137.4H400.1Z"/>
<path d="M411.7 1127L416.6 1136.4H406.8Z"/>
<path d="M415.6 1129L420.5 1138.4H410.8Z"/>
<path d="M404 1132.3L408.9 1141.7H399.1Z"/>
<path d="M415 1135.8L419.9 1145.1H410.1Z"/>
<path d="M400.8 1143L405.7 1152.4H395.9Z"/>
<path d="M407.9 1144.3L412.8 1153.7H403Z"/>
<path d="M400.8 1152L405.7 1161.4H395.9Z"/>
<path d="M410.8 1152L415.7 1161.4H405.9Z"/>
<path d="M415 1156.8L419.9 1166.2H410.1Z"/>
<path d="M407.9 1158.8L412.8 1168.2H403Z"/>
<path d="M395.4 1137H420.4" stroke="#111" stroke-width="1.3"/>
<rect x="441.3" y="1032.8" width="9.4" height="9.4"/>
<rect x="441.3" y="1051.5" width="9.4" height="9.4"/>
<rect x="445.1" y="1058.8" width="9.4" height="9.4"/>
<rect x="434" y="1066.8" width="9.4" height="9.4"/>
<rect x="448.3" y="1066.1" width="9.4" height="9.4"/>
<rect x="441.3" y="1070.3" width="9.4" height="9.4"/>
<rect x="440.3" y="1080.9" width="9.4" height="9.4"/>
<rect x="445.1" y="1081.8" width="9.4" height="9.4"/>
<rect x="434" y="1085.3" width="9.4" height="9.4"/>
<rect x="448.3" y="1087.3" width="9.4" height="9.4"/>
<rect x="440.3" y="1087.6" width="9.4" height="9.4"/>
<rect x="434" y="1097.3" width="9.4" height="9.4"/>
<rect x="444.1" y="1106.3" width="9.4" height="9.4"/>
<rect x="434" y="1114.5" width="9.4" height="9.4"/>
<rect x="448.3" y="1115.5" width="9.4" height="9.4"/>
<rect x="441.3" y="1121.3" width="9.4" height="9.4"/>
<rect x="441.3" y="1110.7" width="9.4" height="9.4"/>
<path d="M433.5 1089.4H458.5" stroke="#111" stroke-width="1.3"/>
<path d="M483.8 1041.1L488.7 1031.9H478.9Z"/>
<path d="M487.3 1089.2L492.2 1080H482.4Z"/>
<path d="M476.7 1096.9L481.6 1087.7H471.8Z"/>
<path d="M482.5 1101.7L487.4 1092.5H477.6Z"/>
<path d="M490.2 1100.8L495.1 1091.6H485.3Z"/>
<path d="M487.3 1105.6L492.2 1096.4H482.4Z"/>
<path d="M476.7 1113.3L481.6 1104.1H471.8Z"/>
<path d="M484.4 1116.1L489.2 1106.9H479.5Z"/>
<path d="M482.5 1121.9L487.4 1112.7H477.6Z"/>
<path d="M476.7 1128.6L481.6 1119.4H471.8Z"/>
<path d="M483.8 1130.6L488.7 1121.4H478.9Z"/>
<path d="M490.8 1128.6L495.7 1119.4H485.9Z"/>
<path d="M487.3 1125.8L492.2 1116.6H482.4Z"/>
<path d="M491.6 1097.2L496.5 1088H486.8Z"/>
<path d="M480 1106.4L484.9 1097.2H475.1Z"/>
<path d="M489.6 1113.8L494.5 1104.6H484.8Z"/>
<path d="M471 1105H496.5" stroke="#111" stroke-width="1.3"/>
</svg>
</body></html>
